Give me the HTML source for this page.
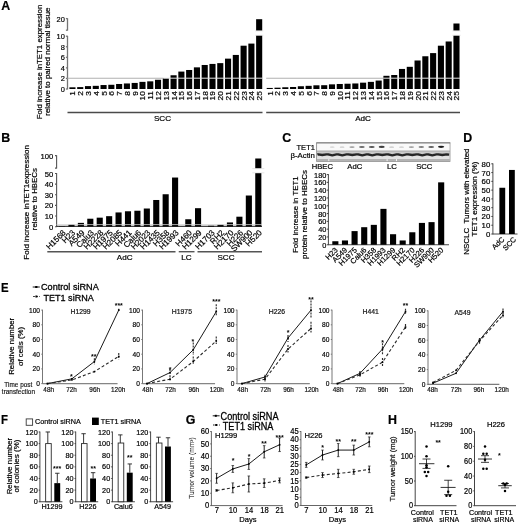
<!DOCTYPE html>
<html lang="en">
<head>
<meta charset="utf-8">
<title>TET1 expression in NSCLC - figure</title>
<style>
html,body{margin:0;padding:0;background:#fff;}
body{width:520px;height:524px;overflow:hidden;}
svg{display:block;font-family:'Liberation Sans', Arial, Helvetica, sans-serif;}
svg text{stroke:#000;stroke-width:0.2px;stroke-linejoin:round;}
</style>
</head>
<body>
<svg width="520" height="524" viewBox="0 0 520 524">
<rect x="0" y="0" width="520" height="524" fill="#ffffff"/>
<!-- panel letters -->
<text font-size="12.4" text-anchor="start" font-weight="bold" transform="translate(1.2 10.3)" y="0">A</text>
<text font-size="12.4" text-anchor="start" font-weight="bold" transform="translate(1.2 142.3)" y="0">B</text>
<text font-size="12.4" text-anchor="start" font-weight="bold" transform="translate(282.3 142.3)" y="0">C</text>
<text font-size="12.4" text-anchor="start" font-weight="bold" transform="translate(463.2 142.3)" y="0">D</text>
<text font-size="12.4" text-anchor="start" font-weight="bold" transform="translate(1 292.2) scale(0.920 1.000)" y="0">E</text>
<text font-size="12.4" text-anchor="start" font-weight="bold" transform="translate(1 424) scale(0.920 1.000)" y="0">F</text>
<text font-size="12.4" text-anchor="start" font-weight="bold" transform="translate(185.8 424.4)" y="0">G</text>
<text font-size="12.4" text-anchor="start" font-weight="bold" transform="translate(388 424)" y="0">H</text>
<!-- Panel A -->
<text font-size="7.6" text-anchor="middle" transform="translate(41.7 62) rotate(-90) scale(1.032 1.000)" y="0">Fold increase inTET1 expression</text>
<text font-size="7.6" text-anchor="middle" transform="translate(50.2 61.6) rotate(-90) scale(1.049 1.000)" y="0">relative to paired normal tissue</text>
<line x1="67.5" y1="35.8" x2="67.5" y2="89.4" stroke="#747474" stroke-width="1.3"/>
<line x1="67.5" y1="18.2" x2="67.5" y2="30.6" stroke="#747474" stroke-width="1.3"/>
<line x1="65.9" y1="30.2" x2="67.5" y2="30.2" stroke="#747474" stroke-width="1.3"/>
<line x1="65.9" y1="89" x2="67.5" y2="89" stroke="#747474" stroke-width="1.3"/>
<text font-size="8.1" text-anchor="end" transform="translate(64.8 89) scale(0.920 1.000)" y="2.9">0</text>
<line x1="65.9" y1="78.44" x2="67.5" y2="78.44" stroke="#747474" stroke-width="1.3"/>
<text font-size="8.1" text-anchor="end" transform="translate(64.8 78.44) scale(0.920 1.000)" y="2.9">2</text>
<line x1="65.9" y1="67.88" x2="67.5" y2="67.88" stroke="#747474" stroke-width="1.3"/>
<text font-size="8.1" text-anchor="end" transform="translate(64.8 67.88) scale(0.920 1.000)" y="2.9">4</text>
<line x1="65.9" y1="57.32" x2="67.5" y2="57.32" stroke="#747474" stroke-width="1.3"/>
<text font-size="8.1" text-anchor="end" transform="translate(64.8 57.32) scale(0.920 1.000)" y="2.9">6</text>
<line x1="65.9" y1="46.76" x2="67.5" y2="46.76" stroke="#747474" stroke-width="1.3"/>
<text font-size="8.1" text-anchor="end" transform="translate(64.8 46.76) scale(0.920 1.000)" y="2.9">8</text>
<line x1="65.9" y1="36.2" x2="67.5" y2="36.2" stroke="#747474" stroke-width="1.3"/>
<text font-size="8.1" text-anchor="end" transform="translate(64.8 36.2) scale(0.920 1.000)" y="2.9">10</text>
<line x1="65.9" y1="18.6" x2="67.5" y2="18.6" stroke="#747474" stroke-width="1.3"/>
<text font-size="8.1" text-anchor="end" transform="translate(64.8 18.8) scale(0.920 1.000)" y="2.9">20</text>
<rect x="69.4" y="87.31" width="6.1" height="1.69" fill="#000"/>
<text font-size="7.9" text-anchor="end" transform="translate(72.55 91.1) rotate(-90) scale(1.060 1.000)" y="2.83">1</text>
<rect x="77.18" y="87.1" width="6.1" height="1.9" fill="#000"/>
<text font-size="7.9" text-anchor="end" transform="translate(80.33 91.1) rotate(-90) scale(1.060 1.000)" y="2.83">2</text>
<rect x="84.96" y="86.1" width="6.1" height="2.9" fill="#000"/>
<text font-size="7.9" text-anchor="end" transform="translate(88.11 91.1) rotate(-90) scale(1.060 1.000)" y="2.83">3</text>
<rect x="92.74" y="85.83" width="6.1" height="3.17" fill="#000"/>
<text font-size="7.9" text-anchor="end" transform="translate(95.89 91.1) rotate(-90) scale(1.060 1.000)" y="2.83">4</text>
<rect x="100.52" y="85.04" width="6.1" height="3.96" fill="#000"/>
<text font-size="7.9" text-anchor="end" transform="translate(103.67 91.1) rotate(-90) scale(1.060 1.000)" y="2.83">5</text>
<rect x="108.3" y="84.78" width="6.1" height="4.22" fill="#000"/>
<text font-size="7.9" text-anchor="end" transform="translate(111.45 91.1) rotate(-90) scale(1.060 1.000)" y="2.83">6</text>
<rect x="116.08" y="83.98" width="6.1" height="5.02" fill="#000"/>
<text font-size="7.9" text-anchor="end" transform="translate(119.23 91.1) rotate(-90) scale(1.060 1.000)" y="2.83">7</text>
<rect x="123.86" y="83.46" width="6.1" height="5.54" fill="#000"/>
<text font-size="7.9" text-anchor="end" transform="translate(127.01 91.1) rotate(-90) scale(1.060 1.000)" y="2.83">8</text>
<rect x="131.64" y="82.93" width="6.1" height="6.07" fill="#000"/>
<text font-size="7.9" text-anchor="end" transform="translate(134.79 91.1) rotate(-90) scale(1.060 1.000)" y="2.83">9</text>
<rect x="139.42" y="81.87" width="6.1" height="7.13" fill="#000"/>
<text font-size="7.9" text-anchor="end" transform="translate(142.57 91.1) rotate(-90) scale(1.060 1.000)" y="2.83">10</text>
<rect x="147.2" y="81.34" width="6.1" height="7.66" fill="#000"/>
<text font-size="7.9" text-anchor="end" transform="translate(150.35 91.1) rotate(-90) scale(1.060 1.000)" y="2.83">11</text>
<rect x="154.98" y="79.76" width="6.1" height="9.24" fill="#000"/>
<text font-size="7.9" text-anchor="end" transform="translate(158.13 91.1) rotate(-90) scale(1.060 1.000)" y="2.83">12</text>
<rect x="162.76" y="78.18" width="6.1" height="10.82" fill="#000"/>
<text font-size="7.9" text-anchor="end" transform="translate(165.91 91.1) rotate(-90) scale(1.060 1.000)" y="2.83">13</text>
<rect x="170.54" y="75.27" width="6.1" height="13.73" fill="#000"/>
<text font-size="7.9" text-anchor="end" transform="translate(173.69 91.1) rotate(-90) scale(1.060 1.000)" y="2.83">14</text>
<rect x="178.32" y="71.58" width="6.1" height="17.42" fill="#000"/>
<text font-size="7.9" text-anchor="end" transform="translate(181.47 91.1) rotate(-90) scale(1.060 1.000)" y="2.83">15</text>
<rect x="186.1" y="69.99" width="6.1" height="19.01" fill="#000"/>
<text font-size="7.9" text-anchor="end" transform="translate(189.25 91.1) rotate(-90) scale(1.060 1.000)" y="2.83">16</text>
<rect x="193.88" y="67.35" width="6.1" height="21.65" fill="#000"/>
<text font-size="7.9" text-anchor="end" transform="translate(197.03 91.1) rotate(-90) scale(1.060 1.000)" y="2.83">17</text>
<rect x="201.66" y="64.98" width="6.1" height="24.02" fill="#000"/>
<text font-size="7.9" text-anchor="end" transform="translate(204.81 91.1) rotate(-90) scale(1.060 1.000)" y="2.83">18</text>
<rect x="209.44" y="63.92" width="6.1" height="25.08" fill="#000"/>
<text font-size="7.9" text-anchor="end" transform="translate(212.59 91.1) rotate(-90) scale(1.060 1.000)" y="2.83">19</text>
<rect x="217.22" y="63.13" width="6.1" height="25.87" fill="#000"/>
<text font-size="7.9" text-anchor="end" transform="translate(220.37 91.1) rotate(-90) scale(1.060 1.000)" y="2.83">20</text>
<rect x="225" y="58.64" width="6.1" height="30.36" fill="#000"/>
<text font-size="7.9" text-anchor="end" transform="translate(228.15 91.1) rotate(-90) scale(1.060 1.000)" y="2.83">21</text>
<rect x="232.78" y="54.94" width="6.1" height="34.06" fill="#000"/>
<text font-size="7.9" text-anchor="end" transform="translate(235.93 91.1) rotate(-90) scale(1.060 1.000)" y="2.83">22</text>
<rect x="240.56" y="45.7" width="6.1" height="43.3" fill="#000"/>
<text font-size="7.9" text-anchor="end" transform="translate(243.71 91.1) rotate(-90) scale(1.060 1.000)" y="2.83">23</text>
<rect x="248.34" y="43.59" width="6.1" height="45.41" fill="#000"/>
<text font-size="7.9" text-anchor="end" transform="translate(251.49 91.1) rotate(-90) scale(1.060 1.000)" y="2.83">24</text>
<rect x="256.12" y="35.6" width="6.1" height="53.4" fill="#000"/>
<rect x="256.12" y="19.2" width="6.1" height="11.4" fill="#000"/>
<line x1="254.92" y1="30.9" x2="263.42" y2="30.9" stroke="#d4d4d4" stroke-width="0.5"/>
<line x1="254.92" y1="35.3" x2="263.42" y2="35.3" stroke="#d4d4d4" stroke-width="0.5"/>
<text font-size="7.9" text-anchor="end" transform="translate(259.27 91.1) rotate(-90) scale(1.060 1.000)" y="2.83">25</text>
<rect x="266.7" y="87.94" width="6.1" height="1.06" fill="#000"/>
<text font-size="7.9" text-anchor="end" transform="translate(269.85 91.1) rotate(-90) scale(1.060 1.000)" y="2.83">1</text>
<rect x="274.48" y="87.68" width="6.1" height="1.32" fill="#000"/>
<text font-size="7.9" text-anchor="end" transform="translate(277.63 91.1) rotate(-90) scale(1.060 1.000)" y="2.83">2</text>
<rect x="282.26" y="87.26" width="6.1" height="1.74" fill="#000"/>
<text font-size="7.9" text-anchor="end" transform="translate(285.41 91.1) rotate(-90) scale(1.060 1.000)" y="2.83">3</text>
<rect x="290.04" y="86.99" width="6.1" height="2.01" fill="#000"/>
<text font-size="7.9" text-anchor="end" transform="translate(293.19 91.1) rotate(-90) scale(1.060 1.000)" y="2.83">4</text>
<rect x="297.82" y="86.25" width="6.1" height="2.75" fill="#000"/>
<text font-size="7.9" text-anchor="end" transform="translate(300.97 91.1) rotate(-90) scale(1.060 1.000)" y="2.83">5</text>
<rect x="305.6" y="85.83" width="6.1" height="3.17" fill="#000"/>
<text font-size="7.9" text-anchor="end" transform="translate(308.75 91.1) rotate(-90) scale(1.060 1.000)" y="2.83">6</text>
<rect x="313.38" y="85.3" width="6.1" height="3.7" fill="#000"/>
<text font-size="7.9" text-anchor="end" transform="translate(316.53 91.1) rotate(-90) scale(1.060 1.000)" y="2.83">7</text>
<rect x="321.16" y="85.2" width="6.1" height="3.8" fill="#000"/>
<text font-size="7.9" text-anchor="end" transform="translate(324.31 91.1) rotate(-90) scale(1.060 1.000)" y="2.83">8</text>
<rect x="328.94" y="84.35" width="6.1" height="4.65" fill="#000"/>
<text font-size="7.9" text-anchor="end" transform="translate(332.09 91.1) rotate(-90) scale(1.060 1.000)" y="2.83">9</text>
<rect x="336.72" y="83.98" width="6.1" height="5.02" fill="#000"/>
<text font-size="7.9" text-anchor="end" transform="translate(339.87 91.1) rotate(-90) scale(1.060 1.000)" y="2.83">10</text>
<rect x="344.5" y="83.72" width="6.1" height="5.28" fill="#000"/>
<text font-size="7.9" text-anchor="end" transform="translate(347.65 91.1) rotate(-90) scale(1.060 1.000)" y="2.83">11</text>
<rect x="352.28" y="83.46" width="6.1" height="5.54" fill="#000"/>
<text font-size="7.9" text-anchor="end" transform="translate(355.43 91.1) rotate(-90) scale(1.060 1.000)" y="2.83">12</text>
<rect x="360.06" y="82.66" width="6.1" height="6.34" fill="#000"/>
<text font-size="7.9" text-anchor="end" transform="translate(363.21 91.1) rotate(-90) scale(1.060 1.000)" y="2.83">13</text>
<rect x="367.84" y="81.87" width="6.1" height="7.13" fill="#000"/>
<text font-size="7.9" text-anchor="end" transform="translate(370.99 91.1) rotate(-90) scale(1.060 1.000)" y="2.83">14</text>
<rect x="375.62" y="80.55" width="6.1" height="8.45" fill="#000"/>
<text font-size="7.9" text-anchor="end" transform="translate(378.77 91.1) rotate(-90) scale(1.060 1.000)" y="2.83">15</text>
<rect x="383.4" y="75.8" width="6.1" height="13.2" fill="#000"/>
<text font-size="7.9" text-anchor="end" transform="translate(386.55 91.1) rotate(-90) scale(1.060 1.000)" y="2.83">16</text>
<rect x="391.18" y="75.01" width="6.1" height="13.99" fill="#000"/>
<text font-size="7.9" text-anchor="end" transform="translate(394.33 91.1) rotate(-90) scale(1.060 1.000)" y="2.83">17</text>
<rect x="398.96" y="68.94" width="6.1" height="20.06" fill="#000"/>
<text font-size="7.9" text-anchor="end" transform="translate(402.11 91.1) rotate(-90) scale(1.060 1.000)" y="2.83">18</text>
<rect x="406.74" y="66.82" width="6.1" height="22.18" fill="#000"/>
<text font-size="7.9" text-anchor="end" transform="translate(409.89 91.1) rotate(-90) scale(1.060 1.000)" y="2.83">19</text>
<rect x="414.52" y="60.49" width="6.1" height="28.51" fill="#000"/>
<text font-size="7.9" text-anchor="end" transform="translate(417.67 91.1) rotate(-90) scale(1.060 1.000)" y="2.83">20</text>
<rect x="422.3" y="56.26" width="6.1" height="32.74" fill="#000"/>
<text font-size="7.9" text-anchor="end" transform="translate(425.45 91.1) rotate(-90) scale(1.060 1.000)" y="2.83">21</text>
<rect x="430.08" y="53.1" width="6.1" height="35.9" fill="#000"/>
<text font-size="7.9" text-anchor="end" transform="translate(433.23 91.1) rotate(-90) scale(1.060 1.000)" y="2.83">22</text>
<rect x="437.86" y="45.7" width="6.1" height="43.3" fill="#000"/>
<text font-size="7.9" text-anchor="end" transform="translate(441.01 91.1) rotate(-90) scale(1.060 1.000)" y="2.83">23</text>
<rect x="445.64" y="41.48" width="6.1" height="47.52" fill="#000"/>
<text font-size="7.9" text-anchor="end" transform="translate(448.79 91.1) rotate(-90) scale(1.060 1.000)" y="2.83">24</text>
<rect x="453.42" y="35.6" width="6.1" height="53.4" fill="#000"/>
<rect x="453.42" y="23.5" width="6.1" height="7.1" fill="#000"/>
<line x1="452.22" y1="30.9" x2="460.72" y2="30.9" stroke="#d4d4d4" stroke-width="0.5"/>
<line x1="452.22" y1="35.3" x2="460.72" y2="35.3" stroke="#d4d4d4" stroke-width="0.5"/>
<text font-size="7.9" text-anchor="end" transform="translate(456.57 91.1) rotate(-90) scale(1.060 1.000)" y="2.83">25</text>
<line x1="67.5" y1="78.2" x2="163.5" y2="78.2" stroke="#b0b0b0" stroke-width="1.1"/>
<line x1="163.5" y1="78.2" x2="262.5" y2="78.2" stroke="#e2e2e2" stroke-width="1.0"/>
<line x1="266.2" y1="78.2" x2="383.5" y2="78.2" stroke="#b0b0b0" stroke-width="1.1"/>
<line x1="383.5" y1="78.2" x2="460" y2="78.2" stroke="#e2e2e2" stroke-width="1.0"/>
<line x1="67.5" y1="112.5" x2="262.5" y2="112.5" stroke="#4a4a4a" stroke-width="1.3"/>
<line x1="266.2" y1="112.5" x2="460" y2="112.5" stroke="#4a4a4a" stroke-width="1.3"/>
<text font-size="8.1" text-anchor="middle" transform="translate(162.5 118.2)" y="2.9">SCC</text>
<text font-size="8.1" text-anchor="middle" transform="translate(363 118.2)" y="2.9">AdC</text>
<!-- Panel B -->
<text font-size="7.6" text-anchor="middle" transform="translate(28.8 202.4) rotate(-90) scale(1.052 1.000)" y="0">Fold increase inTET1expression</text>
<text font-size="7.6" text-anchor="middle" transform="translate(37.1 199.1) rotate(-90) scale(1.037 1.000)" y="0">relative to HBECs</text>
<line x1="56.6" y1="173.1" x2="56.6" y2="227.1" stroke="#555" stroke-width="1.1"/>
<line x1="56.6" y1="155.2" x2="56.6" y2="168.5" stroke="#555" stroke-width="1.1"/>
<line x1="55" y1="168.1" x2="56.6" y2="168.1" stroke="#555" stroke-width="1.1"/>
<line x1="55" y1="226.7" x2="56.6" y2="226.7" stroke="#555" stroke-width="1.1"/>
<text font-size="7.9" text-anchor="end" transform="translate(53.3 226.9) scale(0.970 1.000)" y="2.83">0</text>
<line x1="55" y1="216.06" x2="56.6" y2="216.06" stroke="#555" stroke-width="1.1"/>
<text font-size="7.9" text-anchor="end" transform="translate(53.3 216.26) scale(0.970 1.000)" y="2.83">10</text>
<line x1="55" y1="205.42" x2="56.6" y2="205.42" stroke="#555" stroke-width="1.1"/>
<text font-size="7.9" text-anchor="end" transform="translate(53.3 205.62) scale(0.970 1.000)" y="2.83">20</text>
<line x1="55" y1="194.78" x2="56.6" y2="194.78" stroke="#555" stroke-width="1.1"/>
<text font-size="7.9" text-anchor="end" transform="translate(53.3 194.98) scale(0.970 1.000)" y="2.83">30</text>
<line x1="55" y1="184.14" x2="56.6" y2="184.14" stroke="#555" stroke-width="1.1"/>
<text font-size="7.9" text-anchor="end" transform="translate(53.3 184.34) scale(0.970 1.000)" y="2.83">40</text>
<line x1="55" y1="173.5" x2="56.6" y2="173.5" stroke="#555" stroke-width="1.1"/>
<text font-size="7.9" text-anchor="end" transform="translate(53.3 173.7) scale(0.970 1.000)" y="2.83">50</text>
<line x1="55" y1="155.6" x2="56.6" y2="155.6" stroke="#555" stroke-width="1.1"/>
<text font-size="7.9" text-anchor="end" transform="translate(53.3 155.8) scale(0.970 1.000)" y="2.83">100</text>
<rect x="59" y="226.27" width="6.1" height="0.43" fill="#000"/>
<text font-size="8.1" text-anchor="end" transform="translate(66.25 233.2) rotate(-45)" y="0">H1568</text>
<rect x="68.42" y="224.57" width="6.1" height="2.13" fill="#000"/>
<text font-size="8.1" text-anchor="end" transform="translate(75.67 233.2) rotate(-45)" y="0">H23</text>
<rect x="77.84" y="222.87" width="6.1" height="3.83" fill="#000"/>
<text font-size="8.1" text-anchor="end" transform="translate(85.09 233.2) rotate(-45)" y="0">A549</text>
<rect x="87.26" y="218.72" width="6.1" height="7.98" fill="#000"/>
<text font-size="8.1" text-anchor="end" transform="translate(94.51 233.2) rotate(-45)" y="0">Calu3</text>
<rect x="96.68" y="217.66" width="6.1" height="9.04" fill="#000"/>
<text font-size="8.1" text-anchor="end" transform="translate(103.93 233.2) rotate(-45)" y="0">H2228</text>
<rect x="106.1" y="216.17" width="6.1" height="10.53" fill="#000"/>
<text font-size="8.1" text-anchor="end" transform="translate(113.35 233.2) rotate(-45)" y="0">H1975</text>
<rect x="115.52" y="212.44" width="6.1" height="14.26" fill="#000"/>
<text font-size="8.1" text-anchor="end" transform="translate(122.77 233.2) rotate(-45)" y="0">H2085</text>
<rect x="124.94" y="211.27" width="6.1" height="15.43" fill="#000"/>
<text font-size="8.1" text-anchor="end" transform="translate(132.19 233.2) rotate(-45)" y="0">H441</text>
<rect x="134.36" y="210.74" width="6.1" height="15.96" fill="#000"/>
<text font-size="8.1" text-anchor="end" transform="translate(141.61 233.2) rotate(-45)" y="0">Calu6</text>
<rect x="143.78" y="208.51" width="6.1" height="18.19" fill="#000"/>
<text font-size="8.1" text-anchor="end" transform="translate(151.03 233.2) rotate(-45)" y="0">H2023</text>
<rect x="153.2" y="199.99" width="6.1" height="26.71" fill="#000"/>
<text font-size="8.1" text-anchor="end" transform="translate(160.45 233.2) rotate(-45)" y="0">H1435</text>
<rect x="162.62" y="194.25" width="6.1" height="32.45" fill="#000"/>
<text font-size="8.1" text-anchor="end" transform="translate(169.87 233.2) rotate(-45)" y="0">H358</text>
<rect x="172.04" y="177.54" width="6.1" height="49.16" fill="#000"/>
<text font-size="8.1" text-anchor="end" transform="translate(179.29 233.2) rotate(-45)" y="0">H1993</text>
<rect x="185.25" y="219.25" width="6.1" height="7.45" fill="#000"/>
<text font-size="8.1" text-anchor="end" transform="translate(192.5 233.2) rotate(-45)" y="0">H460</text>
<rect x="195" y="208.19" width="6.1" height="18.51" fill="#000"/>
<text font-size="8.1" text-anchor="end" transform="translate(202.25 233.2) rotate(-45)" y="0">H1299</text>
<rect x="208" y="225.74" width="6.1" height="0.96" fill="#000"/>
<text font-size="8.1" text-anchor="end" transform="translate(215.25 233.2) rotate(-45)" y="0">H1703</text>
<rect x="217.45" y="224.68" width="6.1" height="2.02" fill="#000"/>
<text font-size="8.1" text-anchor="end" transform="translate(224.7 233.2) rotate(-45)" y="0">RH2</text>
<rect x="226.9" y="222.44" width="6.1" height="4.26" fill="#000"/>
<text font-size="8.1" text-anchor="end" transform="translate(234.15 233.2) rotate(-45)" y="0">H2170</text>
<rect x="236.35" y="216.7" width="6.1" height="10" fill="#000"/>
<text font-size="8.1" text-anchor="end" transform="translate(243.6 233.2) rotate(-45)" y="0">H226</text>
<rect x="245.8" y="195.52" width="6.1" height="31.18" fill="#000"/>
<text font-size="8.1" text-anchor="end" transform="translate(253.05 233.2) rotate(-45)" y="0">SW900</text>
<rect x="255.25" y="173.1" width="6.1" height="53.6" fill="#000"/>
<rect x="255.25" y="158.5" width="6.1" height="9.8" fill="#000"/>
<line x1="252.25" y1="168.6" x2="264.35" y2="168.6" stroke="#cfcfcf" stroke-width="0.5"/>
<line x1="252.25" y1="172.8" x2="264.35" y2="172.8" stroke="#cfcfcf" stroke-width="0.5"/>
<text font-size="8.1" text-anchor="end" transform="translate(262.5 233.2) rotate(-45)" y="0">H520</text>
<line x1="56.6" y1="224.6" x2="262" y2="224.6" stroke="#d2d2d2" stroke-width="0.8"/>
<line x1="56.6" y1="226.3" x2="262" y2="226.3" stroke="#111" stroke-width="1.0"/>
<line x1="47.3" y1="251.7" x2="175.5" y2="251.7" stroke="#555" stroke-width="1.4"/>
<line x1="178.75" y1="251.7" x2="194.5" y2="251.7" stroke="#555" stroke-width="1.4"/>
<line x1="197.5" y1="251.7" x2="262" y2="251.7" stroke="#555" stroke-width="1.4"/>
<text font-size="8.1" text-anchor="middle" transform="translate(124.7 257.5)" y="2.9">AdC</text>
<text font-size="8.1" text-anchor="middle" transform="translate(186.5 257.5)" y="2.9">LC</text>
<text font-size="8.1" text-anchor="middle" transform="translate(226 257.5)" y="2.9">SCC</text>
<!-- Panel C -->
<defs><filter id="soft" x="-5%" y="-50%" width="110%" height="200%"><feGaussianBlur stdDeviation="0.45"/></filter></defs>
<rect x="316.6" y="142.8" width="133.4" height="18.6" fill="#d2d2d2" stroke="#8c8c8c" stroke-width="0.8"/>
<rect x="317.1" y="143.5" width="132.4" height="7.3" fill="#f9f9f9"/>
<line x1="316.4" y1="142.9" x2="450.2" y2="142.9" stroke="#707070" stroke-width="0.8"/>
<line x1="317" y1="151.2" x2="449.6" y2="151.2" stroke="#7a7a7a" stroke-width="0.8"/>
<rect x="317.1" y="151.5" width="132.4" height="2.6" fill="#c9c9c9"/>
<rect x="317.1" y="154" width="132.4" height="5" fill="#e2e2e2"/>
<rect x="317.1" y="159" width="132.4" height="2.1" fill="#b3b3b3"/>
<rect x="328.3" y="159.1" width="1" height="2" fill="#f4f4f4"/>
<rect x="386.6" y="159.1" width="1" height="2" fill="#f4f4f4"/>
<rect x="396" y="159.1" width="1" height="2" fill="#f4f4f4"/>
<g filter="url(#soft)">
<polyline points="317.4,154.6 318.1,154.3 322.3,155 326.5,154.4 328.1,154.3 332.3,155.4 336.5,154.4 338.1,154.3 342.3,155.4 346.5,154.4 348.1,154.3 352.3,155 356.5,154.4 358.1,154.3 362.3,155.4 366.5,154.4 368.1,154.3 372.3,155.4 376.5,154.4 378.1,154.3 382.3,155 386.5,154.4 388.1,154.3 392.3,155.4 396.5,154.4 398.1,154.3 402.3,155.4 406.5,154.4 408.1,154.3 412.3,155 416.5,154.4 418.1,154.3 422.3,155.4 426.5,154.4 428.1,154.3 432.3,155.4 436.5,154.4 438.1,154.3 442.3,155 446.5,154.4 449.2,154.6" fill="none" stroke="#262626" stroke-width="2.3" stroke-linejoin="round"/>
<ellipse cx="332.2" cy="147.17" rx="2.46" ry="0.83" fill="rgb(218,218,218)"/>
<ellipse cx="342.1" cy="147.16" rx="2.48" ry="0.84" fill="rgb(214,214,214)"/>
<ellipse cx="352" cy="147.06" rx="2.68" ry="0.92" fill="rgb(160,160,160)"/>
<ellipse cx="361.9" cy="146.96" rx="2.88" ry="1.01" fill="rgb(107,107,107)"/>
<ellipse cx="371.8" cy="146.92" rx="2.96" ry="1.04" fill="rgb(85,85,85)"/>
<ellipse cx="381.7" cy="146.88" rx="3.04" ry="1.08" fill="rgb(64,64,64)"/>
<ellipse cx="391.6" cy="147.15" rx="2.5" ry="0.84" fill="rgb(210,210,210)"/>
<ellipse cx="401.5" cy="147.16" rx="2.48" ry="0.84" fill="rgb(214,214,214)"/>
<ellipse cx="411.4" cy="147.06" rx="2.68" ry="0.92" fill="rgb(160,160,160)"/>
<ellipse cx="421.3" cy="147" rx="2.8" ry="0.98" fill="rgb(128,128,128)"/>
<ellipse cx="431.2" cy="146.94" rx="2.92" ry="1.03" fill="rgb(96,96,96)"/>
<ellipse cx="441.1" cy="146.82" rx="3.16" ry="1.13" fill="rgb(31,31,31)"/>
</g>
<text font-size="8" text-anchor="end" transform="translate(314.9 147.3) scale(0.941 1.000)" y="2.86">TET1</text>
<text font-size="8" text-anchor="end" transform="translate(314.9 155.4) scale(0.978 1.000)" y="2.86">β-Actin</text>
<text font-size="7.8" text-anchor="middle" transform="translate(322.3 165.8) scale(0.978 1.000)" y="2.79">HBEC</text>
<text font-size="7.8" text-anchor="middle" transform="translate(354.8 165.8) scale(0.989 1.000)" y="2.79">AdC</text>
<text font-size="7.8" text-anchor="middle" transform="translate(392 165.8)" y="2.79">LC</text>
<text font-size="7.8" text-anchor="middle" transform="translate(424.3 165.8) scale(0.990 1.000)" y="2.79">SCC</text>
<text font-size="8" text-anchor="middle" transform="translate(298.4 214.7) rotate(-90) scale(0.984 1.000)" y="0">Fold increase in TET1</text>
<text font-size="8" text-anchor="middle" transform="translate(306.6 214.5) rotate(-90) scale(0.991 1.000)" y="0">protein relative to HBECs</text>
<line x1="328.4" y1="174.15" x2="328.4" y2="245.15" stroke="#333" stroke-width="0.9"/>
<line x1="328.4" y1="244.75" x2="449" y2="244.75" stroke="#333" stroke-width="0.9"/>
<line x1="326.8" y1="244.75" x2="328.4" y2="244.75" stroke="#333" stroke-width="0.9"/>
<text font-size="7.7" text-anchor="end" transform="translate(326.4 244.95) scale(0.960 1.000)" y="2.76">0</text>
<line x1="326.8" y1="236.95" x2="328.4" y2="236.95" stroke="#333" stroke-width="0.9"/>
<text font-size="7.7" text-anchor="end" transform="translate(326.4 237.15) scale(0.960 1.000)" y="2.76">20</text>
<line x1="326.8" y1="229.15" x2="328.4" y2="229.15" stroke="#333" stroke-width="0.9"/>
<text font-size="7.7" text-anchor="end" transform="translate(326.4 229.35) scale(0.960 1.000)" y="2.76">40</text>
<line x1="326.8" y1="221.35" x2="328.4" y2="221.35" stroke="#333" stroke-width="0.9"/>
<text font-size="7.7" text-anchor="end" transform="translate(326.4 221.55) scale(0.960 1.000)" y="2.76">60</text>
<line x1="326.8" y1="213.55" x2="328.4" y2="213.55" stroke="#333" stroke-width="0.9"/>
<text font-size="7.7" text-anchor="end" transform="translate(326.4 213.75) scale(0.960 1.000)" y="2.76">80</text>
<line x1="326.8" y1="205.75" x2="328.4" y2="205.75" stroke="#333" stroke-width="0.9"/>
<text font-size="7.7" text-anchor="end" transform="translate(326.4 205.95) scale(0.960 1.000)" y="2.76">100</text>
<line x1="326.8" y1="197.95" x2="328.4" y2="197.95" stroke="#333" stroke-width="0.9"/>
<text font-size="7.7" text-anchor="end" transform="translate(326.4 198.15) scale(0.960 1.000)" y="2.76">120</text>
<line x1="326.8" y1="190.15" x2="328.4" y2="190.15" stroke="#333" stroke-width="0.9"/>
<text font-size="7.7" text-anchor="end" transform="translate(326.4 190.35) scale(0.960 1.000)" y="2.76">140</text>
<line x1="326.8" y1="182.35" x2="328.4" y2="182.35" stroke="#333" stroke-width="0.9"/>
<text font-size="7.7" text-anchor="end" transform="translate(326.4 182.55) scale(0.960 1.000)" y="2.76">160</text>
<line x1="326.8" y1="174.55" x2="328.4" y2="174.55" stroke="#333" stroke-width="0.9"/>
<text font-size="7.7" text-anchor="end" transform="translate(326.4 174.75) scale(0.960 1.000)" y="2.76">180</text>
<rect x="332.3" y="241.24" width="6.1" height="3.51" fill="#000"/>
<text font-size="7.5" text-anchor="end" transform="translate(338.15 250.55) rotate(-45)" y="0">H23</text>
<rect x="341.92" y="240.46" width="6.1" height="4.29" fill="#000"/>
<text font-size="7.5" text-anchor="end" transform="translate(347.77 250.55) rotate(-45)" y="0">A549</text>
<rect x="351.54" y="231.1" width="6.1" height="13.65" fill="#000"/>
<text font-size="7.5" text-anchor="end" transform="translate(357.39 250.55) rotate(-45)" y="0">H1975</text>
<rect x="361.16" y="227.2" width="6.1" height="17.55" fill="#000"/>
<text font-size="7.5" text-anchor="end" transform="translate(367.01 250.55) rotate(-45)" y="0">Calu6</text>
<rect x="370.78" y="224.86" width="6.1" height="19.89" fill="#000"/>
<text font-size="7.5" text-anchor="end" transform="translate(376.63 250.55) rotate(-45)" y="0">H358</text>
<rect x="380.4" y="208.87" width="6.1" height="35.88" fill="#000"/>
<text font-size="7.5" text-anchor="end" transform="translate(386.25 250.55) rotate(-45)" y="0">H1993</text>
<rect x="390.02" y="234.22" width="6.1" height="10.53" fill="#000"/>
<text font-size="7.5" text-anchor="end" transform="translate(395.87 250.55) rotate(-45)" y="0">H1299</text>
<rect x="399.64" y="240.46" width="6.1" height="4.29" fill="#000"/>
<text font-size="7.5" text-anchor="end" transform="translate(405.49 250.55) rotate(-45)" y="0">RH2</text>
<rect x="409.26" y="232.27" width="6.1" height="12.48" fill="#000"/>
<text font-size="7.5" text-anchor="end" transform="translate(415.11 250.55) rotate(-45)" y="0">H2170</text>
<rect x="418.88" y="222.91" width="6.1" height="21.84" fill="#000"/>
<text font-size="7.5" text-anchor="end" transform="translate(424.73 250.55) rotate(-45)" y="0">H226</text>
<rect x="428.5" y="222.13" width="6.1" height="22.62" fill="#000"/>
<text font-size="7.5" text-anchor="end" transform="translate(434.35 250.55) rotate(-45)" y="0">SW900</text>
<rect x="438.12" y="182.35" width="6.1" height="62.4" fill="#000"/>
<text font-size="7.5" text-anchor="end" transform="translate(443.97 250.55) rotate(-45)" y="0">H520</text>
<!-- Panel D -->
<text font-size="7.8" text-anchor="middle" transform="translate(468.9 201.6) rotate(-90) scale(1.017 1.000)" y="0">NSCLC  Tumors with elevated</text>
<text font-size="7.8" text-anchor="middle" transform="translate(477.4 199) rotate(-90) scale(1.024 1.000)" y="0">TET1 expression (%)</text>
<line x1="492.9" y1="163.4" x2="492.9" y2="234.4" stroke="#333" stroke-width="0.9"/>
<line x1="492.9" y1="234" x2="517.5" y2="234" stroke="#333" stroke-width="0.9"/>
<line x1="491.3" y1="234" x2="492.9" y2="234" stroke="#333" stroke-width="0.9"/>
<text font-size="7.8" text-anchor="end" transform="translate(490.3 234.2)" y="2.79">0</text>
<line x1="491.3" y1="225.22" x2="492.9" y2="225.22" stroke="#333" stroke-width="0.9"/>
<text font-size="7.8" text-anchor="end" transform="translate(490.3 225.42)" y="2.79">10</text>
<line x1="491.3" y1="216.45" x2="492.9" y2="216.45" stroke="#333" stroke-width="0.9"/>
<text font-size="7.8" text-anchor="end" transform="translate(490.3 216.65)" y="2.79">20</text>
<line x1="491.3" y1="207.68" x2="492.9" y2="207.68" stroke="#333" stroke-width="0.9"/>
<text font-size="7.8" text-anchor="end" transform="translate(490.3 207.88)" y="2.79">30</text>
<line x1="491.3" y1="198.9" x2="492.9" y2="198.9" stroke="#333" stroke-width="0.9"/>
<text font-size="7.8" text-anchor="end" transform="translate(490.3 199.1)" y="2.79">40</text>
<line x1="491.3" y1="190.12" x2="492.9" y2="190.12" stroke="#333" stroke-width="0.9"/>
<text font-size="7.8" text-anchor="end" transform="translate(490.3 190.32)" y="2.79">50</text>
<line x1="491.3" y1="181.35" x2="492.9" y2="181.35" stroke="#333" stroke-width="0.9"/>
<text font-size="7.8" text-anchor="end" transform="translate(490.3 181.55)" y="2.79">60</text>
<line x1="491.3" y1="172.57" x2="492.9" y2="172.57" stroke="#333" stroke-width="0.9"/>
<text font-size="7.8" text-anchor="end" transform="translate(490.3 172.77)" y="2.79">70</text>
<line x1="491.3" y1="163.8" x2="492.9" y2="163.8" stroke="#333" stroke-width="0.9"/>
<text font-size="7.8" text-anchor="end" transform="translate(490.3 164)" y="2.79">80</text>
<rect x="499.4" y="187.76" width="5.8" height="46.24" fill="#000"/>
<rect x="509" y="169.94" width="5.8" height="64.06" fill="#000"/>
<text font-size="7.3" text-anchor="end" transform="translate(504.9 240) rotate(-45)" y="0">AdC</text>
<text font-size="7.3" text-anchor="end" transform="translate(516.6 240) rotate(-45)" y="0">SCC</text>
<!-- Panel E -->
<line x1="32.7" y1="287" x2="39.8" y2="287" stroke="#000" stroke-width="0.9"/>
<rect x="35.2" y="286" width="2.2" height="2" fill="#000"/>
<text font-size="9.8" text-anchor="start" style="stroke-width:0.3px" transform="translate(41 286.7) scale(0.931 1.000)" y="3.51">Control siRNA</text>
<line x1="33.2" y1="296.5" x2="39.8" y2="296.5" stroke="#000" stroke-width="0.9" stroke-dasharray="1.6 1.4"/>
<rect x="35.4" y="295.5" width="2" height="2" fill="#000"/>
<text font-size="9.8" text-anchor="start" style="stroke-width:0.3px" transform="translate(43.5 297.9) scale(0.924 1.000)" y="3.51">TET1 siRNA</text>
<text font-size="7.9" text-anchor="middle" transform="translate(14.2 346.3) rotate(-90) scale(0.991 1.000)" y="0">Relative number</text>
<text font-size="7.9" text-anchor="middle" transform="translate(22.9 346.4) rotate(-90) scale(1.006 1.000)" y="0">of cells (%)</text>
<text font-size="6.7" text-anchor="middle" fill="#222" style="stroke-width:0.15px" transform="translate(18.3 384.8) scale(0.957 1.000)" y="2.4">Time post</text>
<text font-size="6.7" text-anchor="middle" fill="#222" style="stroke-width:0.15px" transform="translate(18.4 391.4) scale(0.956 1.000)" y="2.4">transfection</text>
<line x1="42.5" y1="309.7" x2="42.5" y2="384" stroke="#777" stroke-width="1.0"/>
<line x1="42.5" y1="383.6" x2="117.55" y2="383.6" stroke="#858585" stroke-width="1.1"/>
<line x1="41.3" y1="383.6" x2="42.5" y2="383.6" stroke="#777" stroke-width="1.0"/>
<text font-size="7.9" text-anchor="end" transform="translate(40 383.3) scale(0.840 1.000)" y="2.83">0</text>
<line x1="41.3" y1="368.9" x2="42.5" y2="368.9" stroke="#777" stroke-width="1.0"/>
<text font-size="7.9" text-anchor="end" transform="translate(40 368.6) scale(0.840 1.000)" y="2.83">20</text>
<line x1="41.3" y1="354.2" x2="42.5" y2="354.2" stroke="#777" stroke-width="1.0"/>
<text font-size="7.9" text-anchor="end" transform="translate(40 353.9) scale(0.840 1.000)" y="2.83">40</text>
<line x1="41.3" y1="339.5" x2="42.5" y2="339.5" stroke="#777" stroke-width="1.0"/>
<text font-size="7.9" text-anchor="end" transform="translate(40 339.2) scale(0.840 1.000)" y="2.83">60</text>
<line x1="41.3" y1="324.8" x2="42.5" y2="324.8" stroke="#777" stroke-width="1.0"/>
<text font-size="7.9" text-anchor="end" transform="translate(40 324.5) scale(0.840 1.000)" y="2.83">80</text>
<line x1="41.3" y1="310.1" x2="42.5" y2="310.1" stroke="#777" stroke-width="1.0"/>
<text font-size="7.9" text-anchor="end" transform="translate(40 309.8) scale(0.840 1.000)" y="2.83">100</text>
<text font-size="7.3" text-anchor="middle" fill="#222" transform="translate(48.7 389.2) scale(0.880 1.000)" y="2.61">48h</text>
<text font-size="7.3" text-anchor="middle" fill="#222" transform="translate(71.5 389.2) scale(0.880 1.000)" y="2.61">72h</text>
<text font-size="7.3" text-anchor="middle" fill="#222" transform="translate(94.7 389.2) scale(0.880 1.000)" y="2.61">96h</text>
<text font-size="7.3" text-anchor="middle" fill="#222" transform="translate(118.15 389.2) scale(0.880 1.000)" y="2.61">120h</text>
<text font-size="7.6" text-anchor="middle" fill="#222" transform="translate(80.6 311.4) scale(0.900 1.000)" y="2.72">H1299</text>
<polyline points="47.5,383.6 71.9,378.82 94.4,361.55 118.75,310.1" fill="none" stroke="#1a1a1a" stroke-width="1.0" stroke-linejoin="round"/>
<polyline points="47.5,383.6 71.9,379.93 94.4,371.62 118.75,356.41" fill="none" stroke="#2a2a2a" stroke-width="1.1" stroke-linejoin="round" stroke-dasharray="3 2.2"/>
<rect x="46.7" y="382.8" width="1.6" height="1.6" fill="#000"/>
<rect x="71.1" y="378.02" width="1.6" height="1.6" fill="#000"/>
<line x1="94.4" y1="358.24" x2="94.4" y2="364.49" stroke="#2e2e2e" stroke-width="1.15" stroke-dasharray="2.0 1.0"/>
<rect x="93.6" y="360.75" width="1.6" height="1.6" fill="#000"/>
<line x1="118.75" y1="308.63" x2="118.75" y2="311.57" stroke="#2e2e2e" stroke-width="1.15" stroke-dasharray="2.0 1.0"/>
<rect x="117.95" y="309.3" width="1.6" height="1.6" fill="#000"/>
<rect x="46.7" y="382.8" width="1.6" height="1.6" fill="#000"/>
<rect x="71.1" y="379.12" width="1.6" height="1.6" fill="#000"/>
<rect x="93.6" y="370.82" width="1.6" height="1.6" fill="#000"/>
<line x1="118.75" y1="353.1" x2="118.75" y2="359.35" stroke="#2e2e2e" stroke-width="1.15" stroke-dasharray="2.0 1.0"/>
<rect x="117.95" y="355.61" width="1.6" height="1.6" fill="#000"/>
<text font-size="7" text-anchor="middle" font-weight="bold" style="stroke-width:0px" transform="translate(71.3 376.3)" y="2.51">*</text>
<text font-size="7" text-anchor="middle" font-weight="bold" style="stroke-width:0px" transform="translate(93.8 356)" y="2.51">**</text>
<text font-size="7" text-anchor="middle" font-weight="bold" style="stroke-width:0px" transform="translate(118.75 305.3)" y="2.51">***</text>
<line x1="142.5" y1="309.7" x2="142.5" y2="384" stroke="#777" stroke-width="1.0"/>
<line x1="142.5" y1="383.6" x2="215.05" y2="383.6" stroke="#858585" stroke-width="1.1"/>
<line x1="141.3" y1="383.6" x2="142.5" y2="383.6" stroke="#777" stroke-width="1.0"/>
<text font-size="7.9" text-anchor="end" transform="translate(140 383.3) scale(0.840 1.000)" y="2.83">0</text>
<line x1="141.3" y1="368.9" x2="142.5" y2="368.9" stroke="#777" stroke-width="1.0"/>
<text font-size="7.9" text-anchor="end" transform="translate(140 368.6) scale(0.840 1.000)" y="2.83">20</text>
<line x1="141.3" y1="354.2" x2="142.5" y2="354.2" stroke="#777" stroke-width="1.0"/>
<text font-size="7.9" text-anchor="end" transform="translate(140 353.9) scale(0.840 1.000)" y="2.83">40</text>
<line x1="141.3" y1="339.5" x2="142.5" y2="339.5" stroke="#777" stroke-width="1.0"/>
<text font-size="7.9" text-anchor="end" transform="translate(140 339.2) scale(0.840 1.000)" y="2.83">60</text>
<line x1="141.3" y1="324.8" x2="142.5" y2="324.8" stroke="#777" stroke-width="1.0"/>
<text font-size="7.9" text-anchor="end" transform="translate(140 324.5) scale(0.840 1.000)" y="2.83">80</text>
<line x1="141.3" y1="310.1" x2="142.5" y2="310.1" stroke="#777" stroke-width="1.0"/>
<text font-size="7.9" text-anchor="end" transform="translate(140 309.8) scale(0.840 1.000)" y="2.83">100</text>
<text font-size="7.3" text-anchor="middle" fill="#222" transform="translate(147.6 389.2) scale(0.880 1.000)" y="2.61">48h</text>
<text font-size="7.3" text-anchor="middle" fill="#222" transform="translate(170.5 389.2) scale(0.880 1.000)" y="2.61">72h</text>
<text font-size="7.3" text-anchor="middle" fill="#222" transform="translate(193.75 389.2) scale(0.880 1.000)" y="2.61">96h</text>
<text font-size="7.3" text-anchor="middle" fill="#222" transform="translate(216.75 389.2) scale(0.880 1.000)" y="2.61">120h</text>
<text font-size="7.6" text-anchor="middle" fill="#222" transform="translate(181.9 311.4) scale(0.900 1.000)" y="2.72">H1975</text>
<polyline points="147,383.6 170,372.58 193.25,349.79 216.25,311.57" fill="none" stroke="#1a1a1a" stroke-width="1.0" stroke-linejoin="round"/>
<polyline points="147,383.6 170,379.19 193.25,361.55 216.25,340.97" fill="none" stroke="#2a2a2a" stroke-width="1.1" stroke-linejoin="round" stroke-dasharray="3 2.2"/>
<rect x="146.2" y="382.8" width="1.6" height="1.6" fill="#000"/>
<line x1="170" y1="368.9" x2="170" y2="375.52" stroke="#2e2e2e" stroke-width="1.15" stroke-dasharray="2.0 1.0"/>
<rect x="169.2" y="371.78" width="1.6" height="1.6" fill="#000"/>
<line x1="193.25" y1="342.44" x2="193.25" y2="354.94" stroke="#2e2e2e" stroke-width="1.15" stroke-dasharray="2.0 1.0"/>
<rect x="192.45" y="348.99" width="1.6" height="1.6" fill="#000"/>
<line x1="216.25" y1="304.22" x2="216.25" y2="315.98" stroke="#2e2e2e" stroke-width="1.15" stroke-dasharray="2.0 1.0"/>
<rect x="215.45" y="310.77" width="1.6" height="1.6" fill="#000"/>
<rect x="146.2" y="382.8" width="1.6" height="1.6" fill="#000"/>
<line x1="170" y1="375.52" x2="170" y2="381.4" stroke="#2e2e2e" stroke-width="1.15" stroke-dasharray="2.0 1.0"/>
<rect x="169.2" y="378.39" width="1.6" height="1.6" fill="#000"/>
<line x1="193.25" y1="356.41" x2="193.25" y2="363.75" stroke="#2e2e2e" stroke-width="1.15" stroke-dasharray="2.0 1.0"/>
<rect x="192.45" y="360.75" width="1.6" height="1.6" fill="#000"/>
<line x1="216.25" y1="336.56" x2="216.25" y2="343.91" stroke="#2e2e2e" stroke-width="1.15" stroke-dasharray="2.0 1.0"/>
<rect x="215.45" y="340.17" width="1.6" height="1.6" fill="#000"/>
<text font-size="7" text-anchor="middle" font-weight="bold" style="stroke-width:0px" transform="translate(170 369.9)" y="2.51">*</text>
<text font-size="7" text-anchor="middle" font-weight="bold" style="stroke-width:0px" transform="translate(192.8 341.1)" y="2.51">*</text>
<text font-size="7" text-anchor="middle" font-weight="bold" style="stroke-width:0px" transform="translate(216.3 301.9)" y="2.51">***</text>
<line x1="237" y1="309.7" x2="237" y2="384" stroke="#777" stroke-width="1.0"/>
<line x1="237" y1="383.6" x2="309.8" y2="383.6" stroke="#858585" stroke-width="1.1"/>
<line x1="235.8" y1="383.6" x2="237" y2="383.6" stroke="#777" stroke-width="1.0"/>
<text font-size="7.9" text-anchor="end" transform="translate(234.5 383.3) scale(0.840 1.000)" y="2.83">0</text>
<line x1="235.8" y1="368.9" x2="237" y2="368.9" stroke="#777" stroke-width="1.0"/>
<text font-size="7.9" text-anchor="end" transform="translate(234.5 368.6) scale(0.840 1.000)" y="2.83">20</text>
<line x1="235.8" y1="354.2" x2="237" y2="354.2" stroke="#777" stroke-width="1.0"/>
<text font-size="7.9" text-anchor="end" transform="translate(234.5 353.9) scale(0.840 1.000)" y="2.83">40</text>
<line x1="235.8" y1="339.5" x2="237" y2="339.5" stroke="#777" stroke-width="1.0"/>
<text font-size="7.9" text-anchor="end" transform="translate(234.5 339.2) scale(0.840 1.000)" y="2.83">60</text>
<line x1="235.8" y1="324.8" x2="237" y2="324.8" stroke="#777" stroke-width="1.0"/>
<text font-size="7.9" text-anchor="end" transform="translate(234.5 324.5) scale(0.840 1.000)" y="2.83">80</text>
<line x1="235.8" y1="310.1" x2="237" y2="310.1" stroke="#777" stroke-width="1.0"/>
<text font-size="7.9" text-anchor="end" transform="translate(234.5 309.8) scale(0.840 1.000)" y="2.83">100</text>
<text font-size="7.3" text-anchor="middle" fill="#222" transform="translate(242.6 389.2) scale(0.880 1.000)" y="2.61">48h</text>
<text font-size="7.3" text-anchor="middle" fill="#222" transform="translate(265.5 389.2) scale(0.880 1.000)" y="2.61">72h</text>
<text font-size="7.3" text-anchor="middle" fill="#222" transform="translate(288.5 389.2) scale(0.880 1.000)" y="2.61">96h</text>
<text font-size="7.3" text-anchor="middle" fill="#222" transform="translate(311.5 389.2) scale(0.880 1.000)" y="2.61">120h</text>
<text font-size="7.6" text-anchor="middle" fill="#222" transform="translate(277 311.4) scale(0.900 1.000)" y="2.72">H226</text>
<polyline points="242,383.6 265,376.99 288,338.03 311,310.1" fill="none" stroke="#1a1a1a" stroke-width="1.0" stroke-linejoin="round"/>
<polyline points="242,383.6 265,379.19 288,349.06 311,328.48" fill="none" stroke="#2a2a2a" stroke-width="1.1" stroke-linejoin="round" stroke-dasharray="3 2.2"/>
<rect x="241.2" y="382.8" width="1.6" height="1.6" fill="#000"/>
<line x1="265" y1="374.78" x2="265" y2="379.19" stroke="#2e2e2e" stroke-width="1.15" stroke-dasharray="2.0 1.0"/>
<rect x="264.2" y="376.19" width="1.6" height="1.6" fill="#000"/>
<line x1="288" y1="335.09" x2="288" y2="341.93" stroke="#2e2e2e" stroke-width="1.15" stroke-dasharray="2.0 1.0"/>
<rect x="287.2" y="337.23" width="1.6" height="1.6" fill="#000"/>
<line x1="311" y1="300.55" x2="311" y2="317.45" stroke="#2e2e2e" stroke-width="1.15" stroke-dasharray="2.0 1.0"/>
<rect x="310.2" y="309.3" width="1.6" height="1.6" fill="#000"/>
<rect x="241.2" y="382.8" width="1.6" height="1.6" fill="#000"/>
<line x1="265" y1="376.99" x2="265" y2="381.4" stroke="#2e2e2e" stroke-width="1.15" stroke-dasharray="2.0 1.0"/>
<rect x="264.2" y="378.39" width="1.6" height="1.6" fill="#000"/>
<line x1="288" y1="345.01" x2="288" y2="352.51" stroke="#2e2e2e" stroke-width="1.15" stroke-dasharray="2.0 1.0"/>
<rect x="287.2" y="348.25" width="1.6" height="1.6" fill="#000"/>
<line x1="311" y1="321.86" x2="311" y2="332.52" stroke="#2e2e2e" stroke-width="1.15" stroke-dasharray="2.0 1.0"/>
<rect x="310.2" y="327.68" width="1.6" height="1.6" fill="#000"/>
<text font-size="7" text-anchor="middle" font-weight="bold" style="stroke-width:0px" transform="translate(288 332.8)" y="2.51">*</text>
<text font-size="7" text-anchor="middle" font-weight="bold" style="stroke-width:0px" transform="translate(311 299.6)" y="2.51">**</text>
<line x1="332" y1="309.7" x2="332" y2="384" stroke="#777" stroke-width="1.0"/>
<line x1="332" y1="383.6" x2="404.3" y2="383.6" stroke="#858585" stroke-width="1.1"/>
<line x1="330.8" y1="383.6" x2="332" y2="383.6" stroke="#777" stroke-width="1.0"/>
<text font-size="7.9" text-anchor="end" transform="translate(329.5 383.3) scale(0.840 1.000)" y="2.83">0</text>
<line x1="330.8" y1="368.9" x2="332" y2="368.9" stroke="#777" stroke-width="1.0"/>
<text font-size="7.9" text-anchor="end" transform="translate(329.5 368.6) scale(0.840 1.000)" y="2.83">20</text>
<line x1="330.8" y1="354.2" x2="332" y2="354.2" stroke="#777" stroke-width="1.0"/>
<text font-size="7.9" text-anchor="end" transform="translate(329.5 353.9) scale(0.840 1.000)" y="2.83">40</text>
<line x1="330.8" y1="339.5" x2="332" y2="339.5" stroke="#777" stroke-width="1.0"/>
<text font-size="7.9" text-anchor="end" transform="translate(329.5 339.2) scale(0.840 1.000)" y="2.83">60</text>
<line x1="330.8" y1="324.8" x2="332" y2="324.8" stroke="#777" stroke-width="1.0"/>
<text font-size="7.9" text-anchor="end" transform="translate(329.5 324.5) scale(0.840 1.000)" y="2.83">80</text>
<line x1="330.8" y1="310.1" x2="332" y2="310.1" stroke="#777" stroke-width="1.0"/>
<text font-size="7.9" text-anchor="end" transform="translate(329.5 309.8) scale(0.840 1.000)" y="2.83">100</text>
<text font-size="7.3" text-anchor="middle" fill="#222" transform="translate(338.1 389.2) scale(0.880 1.000)" y="2.61">48h</text>
<text font-size="7.3" text-anchor="middle" fill="#222" transform="translate(360.5 389.2) scale(0.880 1.000)" y="2.61">72h</text>
<text font-size="7.3" text-anchor="middle" fill="#222" transform="translate(383 389.2) scale(0.880 1.000)" y="2.61">96h</text>
<text font-size="7.3" text-anchor="middle" fill="#222" transform="translate(406 389.2) scale(0.880 1.000)" y="2.61">120h</text>
<text font-size="7.6" text-anchor="middle" fill="#222" transform="translate(370.75 311.4) scale(0.900 1.000)" y="2.72">H441</text>
<polyline points="337.5,383.6 360,373.31 382.5,349.06 405.5,311.57" fill="none" stroke="#1a1a1a" stroke-width="1.0" stroke-linejoin="round"/>
<polyline points="337.5,383.6 360,374.78 382.5,362.29 405.5,327" fill="none" stroke="#2a2a2a" stroke-width="1.1" stroke-linejoin="round" stroke-dasharray="3 2.2"/>
<rect x="336.7" y="382.8" width="1.6" height="1.6" fill="#000"/>
<line x1="360" y1="371.11" x2="360" y2="375.52" stroke="#2e2e2e" stroke-width="1.15" stroke-dasharray="2.0 1.0"/>
<rect x="359.2" y="372.51" width="1.6" height="1.6" fill="#000"/>
<line x1="382.5" y1="343.18" x2="382.5" y2="354.2" stroke="#2e2e2e" stroke-width="1.15" stroke-dasharray="2.0 1.0"/>
<rect x="381.7" y="348.25" width="1.6" height="1.6" fill="#000"/>
<line x1="405.5" y1="308.63" x2="405.5" y2="314.51" stroke="#2e2e2e" stroke-width="1.15" stroke-dasharray="2.0 1.0"/>
<rect x="404.7" y="310.77" width="1.6" height="1.6" fill="#000"/>
<rect x="336.7" y="382.8" width="1.6" height="1.6" fill="#000"/>
<line x1="360" y1="371.84" x2="360" y2="377.72" stroke="#2e2e2e" stroke-width="1.15" stroke-dasharray="2.0 1.0"/>
<rect x="359.2" y="373.98" width="1.6" height="1.6" fill="#000"/>
<line x1="382.5" y1="357.88" x2="382.5" y2="366.7" stroke="#2e2e2e" stroke-width="1.15" stroke-dasharray="2.0 1.0"/>
<rect x="381.7" y="361.49" width="1.6" height="1.6" fill="#000"/>
<line x1="405.5" y1="324.07" x2="405.5" y2="329.21" stroke="#2e2e2e" stroke-width="1.15" stroke-dasharray="2.0 1.0"/>
<rect x="404.7" y="326.2" width="1.6" height="1.6" fill="#000"/>
<text font-size="7" text-anchor="middle" font-weight="bold" style="stroke-width:0px" transform="translate(382.5 342.4)" y="2.51">*</text>
<text font-size="7" text-anchor="middle" font-weight="bold" style="stroke-width:0px" transform="translate(405.5 305.6)" y="2.51">**</text>
<line x1="428" y1="310.4" x2="428" y2="384.7" stroke="#777" stroke-width="1.0"/>
<line x1="428" y1="384.3" x2="499.4" y2="384.3" stroke="#4a4a4a" stroke-width="0.9"/>
<line x1="426.8" y1="384.3" x2="428" y2="384.3" stroke="#777" stroke-width="1.0"/>
<text font-size="7.9" text-anchor="end" transform="translate(425.5 384) scale(0.840 1.000)" y="2.83">0</text>
<line x1="426.8" y1="369.6" x2="428" y2="369.6" stroke="#777" stroke-width="1.0"/>
<text font-size="7.9" text-anchor="end" transform="translate(425.5 369.3) scale(0.840 1.000)" y="2.83">20</text>
<line x1="426.8" y1="354.9" x2="428" y2="354.9" stroke="#777" stroke-width="1.0"/>
<text font-size="7.9" text-anchor="end" transform="translate(425.5 354.6) scale(0.840 1.000)" y="2.83">40</text>
<line x1="426.8" y1="340.2" x2="428" y2="340.2" stroke="#777" stroke-width="1.0"/>
<text font-size="7.9" text-anchor="end" transform="translate(425.5 339.9) scale(0.840 1.000)" y="2.83">60</text>
<line x1="426.8" y1="325.5" x2="428" y2="325.5" stroke="#777" stroke-width="1.0"/>
<text font-size="7.9" text-anchor="end" transform="translate(425.5 325.2) scale(0.840 1.000)" y="2.83">80</text>
<line x1="426.8" y1="310.8" x2="428" y2="310.8" stroke="#777" stroke-width="1.0"/>
<text font-size="7.9" text-anchor="end" transform="translate(425.5 310.5) scale(0.840 1.000)" y="2.83">100</text>
<text font-size="7.3" text-anchor="middle" fill="#222" transform="translate(432.5 389.2) scale(0.880 1.000)" y="2.61">48h</text>
<text font-size="7.3" text-anchor="middle" fill="#222" transform="translate(456.2 389.2) scale(0.880 1.000)" y="2.61">72h</text>
<text font-size="7.3" text-anchor="middle" fill="#222" transform="translate(478.9 389.2) scale(0.880 1.000)" y="2.61">96h</text>
<text font-size="7.3" text-anchor="middle" fill="#222" transform="translate(501.7 389.2) scale(0.880 1.000)" y="2.61">120h</text>
<text font-size="7.6" text-anchor="middle" fill="#222" transform="translate(462.5 312.1) scale(0.900 1.000)" y="2.72">A549</text>
<polyline points="433,383.2 456,373.28 479.5,340.2 503,311.54" fill="none" stroke="#1a1a1a" stroke-width="1.0" stroke-linejoin="round"/>
<polyline points="433,382.46 456,370.34 479.5,340.94 503,315.21" fill="none" stroke="#2a2a2a" stroke-width="1.1" stroke-linejoin="round" stroke-dasharray="3 2.2"/>
<rect x="432.2" y="382.4" width="1.6" height="1.6" fill="#000"/>
<rect x="455.2" y="372.48" width="1.6" height="1.6" fill="#000"/>
<line x1="479.5" y1="338" x2="479.5" y2="342.41" stroke="#2e2e2e" stroke-width="1.15" stroke-dasharray="2.0 1.0"/>
<rect x="478.7" y="339.4" width="1.6" height="1.6" fill="#000"/>
<line x1="503" y1="308.6" x2="503" y2="313.74" stroke="#2e2e2e" stroke-width="1.15" stroke-dasharray="2.0 1.0"/>
<rect x="502.2" y="310.74" width="1.6" height="1.6" fill="#000"/>
<rect x="432.2" y="381.66" width="1.6" height="1.6" fill="#000"/>
<rect x="455.2" y="369.54" width="1.6" height="1.6" fill="#000"/>
<line x1="479.5" y1="338.73" x2="479.5" y2="343.88" stroke="#2e2e2e" stroke-width="1.15" stroke-dasharray="2.0 1.0"/>
<rect x="478.7" y="340.13" width="1.6" height="1.6" fill="#000"/>
<line x1="503" y1="312.27" x2="503" y2="318.15" stroke="#2e2e2e" stroke-width="1.15" stroke-dasharray="2.0 1.0"/>
<rect x="502.2" y="314.41" width="1.6" height="1.6" fill="#000"/>
<!-- Panel F -->
<rect x="26.2" y="418.9" width="6.4" height="6.4" fill="#fff" stroke="#3a3a3a" stroke-width="0.9"/>
<text font-size="7.5" text-anchor="start" transform="translate(35 421.6) scale(0.964 1.000)" y="2.69">Control siRNA</text>
<rect x="92" y="417.6" width="6.8" height="7.4" fill="#000"/>
<text font-size="7.5" text-anchor="start" transform="translate(100.7 421.6) scale(0.972 1.000)" y="2.69">TET1 siRNA</text>
<text font-size="7.8" text-anchor="middle" transform="translate(12 466.1) rotate(-90) scale(0.998 0.950)" y="0">Relative number</text>
<text font-size="7.7" text-anchor="middle" transform="translate(19.1 466) rotate(-90) scale(1.041 0.950)" y="0">of colonies (%)</text>
<line x1="39.9" y1="431.57" x2="39.9" y2="502.15" stroke="#333" stroke-width="0.9"/>
<line x1="39.9" y1="501.75" x2="62.4" y2="501.75" stroke="#333" stroke-width="0.9"/>
<line x1="38.7" y1="501.75" x2="39.9" y2="501.75" stroke="#333" stroke-width="0.9"/>
<text font-size="8.1" text-anchor="end" transform="translate(37.7 501.45) scale(0.900 1.000)" y="2.9">0</text>
<line x1="38.7" y1="490.12" x2="39.9" y2="490.12" stroke="#333" stroke-width="0.9"/>
<text font-size="8.1" text-anchor="end" transform="translate(37.7 489.82) scale(0.900 1.000)" y="2.9">20</text>
<line x1="38.7" y1="478.49" x2="39.9" y2="478.49" stroke="#333" stroke-width="0.9"/>
<text font-size="8.1" text-anchor="end" transform="translate(37.7 478.19) scale(0.900 1.000)" y="2.9">40</text>
<line x1="38.7" y1="466.86" x2="39.9" y2="466.86" stroke="#333" stroke-width="0.9"/>
<text font-size="8.1" text-anchor="end" transform="translate(37.7 466.56) scale(0.900 1.000)" y="2.9">60</text>
<line x1="38.7" y1="455.23" x2="39.9" y2="455.23" stroke="#333" stroke-width="0.9"/>
<text font-size="8.1" text-anchor="end" transform="translate(37.7 454.93) scale(0.900 1.000)" y="2.9">80</text>
<line x1="38.7" y1="443.6" x2="39.9" y2="443.6" stroke="#333" stroke-width="0.9"/>
<text font-size="8.1" text-anchor="end" transform="translate(37.7 443.3) scale(0.900 1.000)" y="2.9">100</text>
<line x1="38.7" y1="431.97" x2="39.9" y2="431.97" stroke="#333" stroke-width="0.9"/>
<text font-size="8.1" text-anchor="end" transform="translate(37.7 431.67) scale(0.900 1.000)" y="2.9">120</text>
<line x1="47.8" y1="431.97" x2="47.8" y2="443.6" stroke="#222" stroke-width="0.9"/>
<line x1="45.6" y1="431.97" x2="50" y2="431.97" stroke="#222" stroke-width="0.9"/>
<rect x="45.65" y="443.6" width="5.6" height="58.15" fill="#fff" stroke="#2a2a2a" stroke-width="0.9"/>
<line x1="57.3" y1="473.26" x2="57.3" y2="483.14" stroke="#222" stroke-width="0.9"/>
<line x1="55.1" y1="473.26" x2="59.5" y2="473.26" stroke="#222" stroke-width="0.9"/>
<rect x="54.3" y="483.14" width="5.9" height="18.61" fill="#000"/>
<text font-size="7.6" text-anchor="middle" transform="translate(52 506.75) scale(0.950 1.000)" y="2.72">H1299</text>
<text font-size="7" text-anchor="middle" font-weight="bold" style="stroke-width:0px" transform="translate(57.1 468)" y="2.51">***</text>
<line x1="75.7" y1="431.57" x2="75.7" y2="502.15" stroke="#333" stroke-width="0.9"/>
<line x1="75.7" y1="501.75" x2="98.2" y2="501.75" stroke="#333" stroke-width="0.9"/>
<line x1="74.5" y1="501.75" x2="75.7" y2="501.75" stroke="#333" stroke-width="0.9"/>
<text font-size="8.1" text-anchor="end" transform="translate(73.5 501.45) scale(0.900 1.000)" y="2.9">0</text>
<line x1="74.5" y1="490.12" x2="75.7" y2="490.12" stroke="#333" stroke-width="0.9"/>
<text font-size="8.1" text-anchor="end" transform="translate(73.5 489.82) scale(0.900 1.000)" y="2.9">20</text>
<line x1="74.5" y1="478.49" x2="75.7" y2="478.49" stroke="#333" stroke-width="0.9"/>
<text font-size="8.1" text-anchor="end" transform="translate(73.5 478.19) scale(0.900 1.000)" y="2.9">40</text>
<line x1="74.5" y1="466.86" x2="75.7" y2="466.86" stroke="#333" stroke-width="0.9"/>
<text font-size="8.1" text-anchor="end" transform="translate(73.5 466.56) scale(0.900 1.000)" y="2.9">60</text>
<line x1="74.5" y1="455.23" x2="75.7" y2="455.23" stroke="#333" stroke-width="0.9"/>
<text font-size="8.1" text-anchor="end" transform="translate(73.5 454.93) scale(0.900 1.000)" y="2.9">80</text>
<line x1="74.5" y1="443.6" x2="75.7" y2="443.6" stroke="#333" stroke-width="0.9"/>
<text font-size="8.1" text-anchor="end" transform="translate(73.5 443.3) scale(0.900 1.000)" y="2.9">100</text>
<line x1="74.5" y1="431.97" x2="75.7" y2="431.97" stroke="#333" stroke-width="0.9"/>
<text font-size="8.1" text-anchor="end" transform="translate(73.5 431.67) scale(0.900 1.000)" y="2.9">120</text>
<line x1="83.6" y1="433.71" x2="83.6" y2="443.6" stroke="#222" stroke-width="0.9"/>
<line x1="81.4" y1="433.71" x2="85.8" y2="433.71" stroke="#222" stroke-width="0.9"/>
<rect x="81.45" y="443.6" width="5.6" height="58.15" fill="#fff" stroke="#2a2a2a" stroke-width="0.9"/>
<line x1="93.1" y1="472.68" x2="93.1" y2="478.49" stroke="#222" stroke-width="0.9"/>
<line x1="90.9" y1="472.68" x2="95.3" y2="472.68" stroke="#222" stroke-width="0.9"/>
<rect x="90.1" y="478.49" width="5.9" height="23.26" fill="#000"/>
<text font-size="7.6" text-anchor="middle" transform="translate(87.8 506.75) scale(0.950 1.000)" y="2.72">H226</text>
<text font-size="7" text-anchor="middle" font-weight="bold" style="stroke-width:0px" transform="translate(93.3 468)" y="2.51">**</text>
<line x1="112.4" y1="431.57" x2="112.4" y2="502.15" stroke="#333" stroke-width="0.9"/>
<line x1="112.4" y1="501.75" x2="134.9" y2="501.75" stroke="#333" stroke-width="0.9"/>
<line x1="111.2" y1="501.75" x2="112.4" y2="501.75" stroke="#333" stroke-width="0.9"/>
<text font-size="8.1" text-anchor="end" transform="translate(110.2 501.45) scale(0.900 1.000)" y="2.9">0</text>
<line x1="111.2" y1="490.12" x2="112.4" y2="490.12" stroke="#333" stroke-width="0.9"/>
<text font-size="8.1" text-anchor="end" transform="translate(110.2 489.82) scale(0.900 1.000)" y="2.9">20</text>
<line x1="111.2" y1="478.49" x2="112.4" y2="478.49" stroke="#333" stroke-width="0.9"/>
<text font-size="8.1" text-anchor="end" transform="translate(110.2 478.19) scale(0.900 1.000)" y="2.9">40</text>
<line x1="111.2" y1="466.86" x2="112.4" y2="466.86" stroke="#333" stroke-width="0.9"/>
<text font-size="8.1" text-anchor="end" transform="translate(110.2 466.56) scale(0.900 1.000)" y="2.9">60</text>
<line x1="111.2" y1="455.23" x2="112.4" y2="455.23" stroke="#333" stroke-width="0.9"/>
<text font-size="8.1" text-anchor="end" transform="translate(110.2 454.93) scale(0.900 1.000)" y="2.9">80</text>
<line x1="111.2" y1="443.6" x2="112.4" y2="443.6" stroke="#333" stroke-width="0.9"/>
<text font-size="8.1" text-anchor="end" transform="translate(110.2 443.3) scale(0.900 1.000)" y="2.9">100</text>
<line x1="111.2" y1="431.97" x2="112.4" y2="431.97" stroke="#333" stroke-width="0.9"/>
<text font-size="8.1" text-anchor="end" transform="translate(110.2 431.67) scale(0.900 1.000)" y="2.9">120</text>
<line x1="120.3" y1="434.88" x2="120.3" y2="443.02" stroke="#222" stroke-width="0.9"/>
<line x1="118.1" y1="434.88" x2="122.5" y2="434.88" stroke="#222" stroke-width="0.9"/>
<rect x="118.15" y="443.02" width="5.6" height="58.73" fill="#fff" stroke="#2a2a2a" stroke-width="0.9"/>
<line x1="129.8" y1="463.95" x2="129.8" y2="472.68" stroke="#222" stroke-width="0.9"/>
<line x1="127.6" y1="463.95" x2="132" y2="463.95" stroke="#222" stroke-width="0.9"/>
<rect x="126.8" y="472.68" width="5.9" height="29.07" fill="#000"/>
<text font-size="7.6" text-anchor="middle" transform="translate(123.3 506.75) scale(0.950 1.000)" y="2.72">Calu6</text>
<text font-size="7" text-anchor="middle" font-weight="bold" style="stroke-width:0px" transform="translate(129.8 457.6)" y="2.51">**</text>
<line x1="150.6" y1="431.57" x2="150.6" y2="502.15" stroke="#333" stroke-width="0.9"/>
<line x1="150.6" y1="501.75" x2="173.1" y2="501.75" stroke="#333" stroke-width="0.9"/>
<line x1="149.4" y1="501.75" x2="150.6" y2="501.75" stroke="#333" stroke-width="0.9"/>
<text font-size="8.1" text-anchor="end" transform="translate(148.4 501.45) scale(0.900 1.000)" y="2.9">0</text>
<line x1="149.4" y1="490.12" x2="150.6" y2="490.12" stroke="#333" stroke-width="0.9"/>
<text font-size="8.1" text-anchor="end" transform="translate(148.4 489.82) scale(0.900 1.000)" y="2.9">20</text>
<line x1="149.4" y1="478.49" x2="150.6" y2="478.49" stroke="#333" stroke-width="0.9"/>
<text font-size="8.1" text-anchor="end" transform="translate(148.4 478.19) scale(0.900 1.000)" y="2.9">40</text>
<line x1="149.4" y1="466.86" x2="150.6" y2="466.86" stroke="#333" stroke-width="0.9"/>
<text font-size="8.1" text-anchor="end" transform="translate(148.4 466.56) scale(0.900 1.000)" y="2.9">60</text>
<line x1="149.4" y1="455.23" x2="150.6" y2="455.23" stroke="#333" stroke-width="0.9"/>
<text font-size="8.1" text-anchor="end" transform="translate(148.4 454.93) scale(0.900 1.000)" y="2.9">80</text>
<line x1="149.4" y1="443.6" x2="150.6" y2="443.6" stroke="#333" stroke-width="0.9"/>
<text font-size="8.1" text-anchor="end" transform="translate(148.4 443.3) scale(0.900 1.000)" y="2.9">100</text>
<line x1="149.4" y1="431.97" x2="150.6" y2="431.97" stroke="#333" stroke-width="0.9"/>
<text font-size="8.1" text-anchor="end" transform="translate(148.4 431.67) scale(0.900 1.000)" y="2.9">120</text>
<line x1="158.5" y1="437.2" x2="158.5" y2="443.02" stroke="#222" stroke-width="0.9"/>
<line x1="156.3" y1="437.2" x2="160.7" y2="437.2" stroke="#222" stroke-width="0.9"/>
<rect x="156.35" y="443.02" width="5.6" height="58.73" fill="#fff" stroke="#2a2a2a" stroke-width="0.9"/>
<line x1="168" y1="437.78" x2="168" y2="446.51" stroke="#222" stroke-width="0.9"/>
<line x1="165.8" y1="437.78" x2="170.2" y2="437.78" stroke="#222" stroke-width="0.9"/>
<rect x="165" y="446.51" width="5.9" height="55.24" fill="#000"/>
<text font-size="7.6" text-anchor="middle" transform="translate(162.7 506.75) scale(0.950 1.000)" y="2.72">A549</text>
<!-- Panel G -->
<line x1="212.7" y1="415.8" x2="219.6" y2="415.8" stroke="#000" stroke-width="0.9"/>
<rect x="214.8" y="414.8" width="2" height="2" fill="#000"/>
<text font-size="10.1" text-anchor="start" style="stroke-width:0.3px" transform="translate(220.6 416.1) scale(0.906 1.000)" y="3.62">Control siRNA</text>
<line x1="213" y1="425" x2="219.8" y2="425" stroke="#000" stroke-width="0.9" stroke-dasharray="1.6 1.4"/>
<rect x="215.2" y="424" width="2" height="2" fill="#000"/>
<text font-size="10.1" text-anchor="start" style="stroke-width:0.3px" transform="translate(222.8 426.5) scale(0.902 1.000)" y="3.62">TET1 siRNA</text>
<text font-size="6.9" text-anchor="middle" fill="#4a4a4a" style="stroke-width:0.12px" transform="translate(194.2 468) rotate(-90) scale(0.957 1.000)" y="0">Tumor volume (mm³)</text>
<line x1="211.4" y1="431.16" x2="211.4" y2="506" stroke="#555" stroke-width="0.9"/>
<line x1="211.4" y1="505.6" x2="282.6" y2="505.6" stroke="#555" stroke-width="0.9"/>
<line x1="210.2" y1="505.6" x2="211.4" y2="505.6" stroke="#555" stroke-width="0.9"/>
<text font-size="8.2" text-anchor="end" transform="translate(209.2 505.4) scale(0.930 1.000)" y="2.94">0</text>
<line x1="210.2" y1="493.26" x2="211.4" y2="493.26" stroke="#555" stroke-width="0.9"/>
<text font-size="8.2" text-anchor="end" transform="translate(209.2 493.06) scale(0.930 1.000)" y="2.94">10</text>
<line x1="210.2" y1="480.92" x2="211.4" y2="480.92" stroke="#555" stroke-width="0.9"/>
<text font-size="8.2" text-anchor="end" transform="translate(209.2 480.72) scale(0.930 1.000)" y="2.94">20</text>
<line x1="210.2" y1="468.58" x2="211.4" y2="468.58" stroke="#555" stroke-width="0.9"/>
<text font-size="8.2" text-anchor="end" transform="translate(209.2 468.38) scale(0.930 1.000)" y="2.94">30</text>
<line x1="210.2" y1="456.24" x2="211.4" y2="456.24" stroke="#555" stroke-width="0.9"/>
<text font-size="8.2" text-anchor="end" transform="translate(209.2 456.04) scale(0.930 1.000)" y="2.94">40</text>
<line x1="210.2" y1="443.9" x2="211.4" y2="443.9" stroke="#555" stroke-width="0.9"/>
<text font-size="8.2" text-anchor="end" transform="translate(209.2 443.7) scale(0.930 1.000)" y="2.94">50</text>
<line x1="210.2" y1="431.56" x2="211.4" y2="431.56" stroke="#555" stroke-width="0.9"/>
<text font-size="8.2" text-anchor="end" transform="translate(209.2 431.36) scale(0.930 1.000)" y="2.94">60</text>
<text font-size="8.2" text-anchor="middle" transform="translate(216.8 510.3) scale(0.930 1.000)" y="2.94">7</text>
<text font-size="8.2" text-anchor="middle" transform="translate(233 510.3) scale(0.930 1.000)" y="2.94">10</text>
<text font-size="8.2" text-anchor="middle" transform="translate(249 510.3) scale(0.930 1.000)" y="2.94">14</text>
<text font-size="8.2" text-anchor="middle" transform="translate(264.4 510.3) scale(0.930 1.000)" y="2.94">18</text>
<text font-size="8.2" text-anchor="middle" transform="translate(279.8 510.3) scale(0.930 1.000)" y="2.94">21</text>
<text font-size="8.1" text-anchor="start" transform="translate(214.9 435.4) scale(0.940 1.000)" y="2.9">H1299</text>
<text font-size="7.6" text-anchor="middle" transform="translate(248 519.1)" y="2.72">Days</text>
<polyline points="216.6,478.33 232.8,468.95 248.8,464.01 264.2,451.8 279.6,444.76" fill="none" stroke="#1c1c1c" stroke-width="1.0" stroke-linejoin="round"/>
<polyline points="216.6,490.42 232.8,487.83 248.8,484 264.2,483.14 279.6,480.43" fill="none" stroke="#2a2a2a" stroke-width="1.1" stroke-linejoin="round" stroke-dasharray="3 2.2"/>
<line x1="216.6" y1="473.39" x2="216.6" y2="483.26" stroke="#222" stroke-width="1.0"/>
<line x1="215.3" y1="473.39" x2="217.9" y2="473.39" stroke="#222" stroke-width="0.7"/>
<line x1="215.3" y1="483.26" x2="217.9" y2="483.26" stroke="#222" stroke-width="0.7"/>
<rect x="215.8" y="477.53" width="1.6" height="1.6" fill="#000"/>
<line x1="232.8" y1="465.5" x2="232.8" y2="472.41" stroke="#222" stroke-width="1.0"/>
<line x1="231.5" y1="465.5" x2="234.1" y2="465.5" stroke="#222" stroke-width="0.7"/>
<line x1="231.5" y1="472.41" x2="234.1" y2="472.41" stroke="#222" stroke-width="0.7"/>
<rect x="232" y="468.15" width="1.6" height="1.6" fill="#000"/>
<line x1="248.8" y1="458.58" x2="248.8" y2="469.44" stroke="#222" stroke-width="1.0"/>
<line x1="247.5" y1="458.58" x2="250.1" y2="458.58" stroke="#222" stroke-width="0.7"/>
<line x1="247.5" y1="469.44" x2="250.1" y2="469.44" stroke="#222" stroke-width="0.7"/>
<rect x="248" y="463.21" width="1.6" height="1.6" fill="#000"/>
<line x1="264.2" y1="445.63" x2="264.2" y2="457.97" stroke="#222" stroke-width="1.0"/>
<line x1="262.9" y1="445.63" x2="265.5" y2="445.63" stroke="#222" stroke-width="0.7"/>
<line x1="262.9" y1="457.97" x2="265.5" y2="457.97" stroke="#222" stroke-width="0.7"/>
<rect x="263.4" y="451" width="1.6" height="1.6" fill="#000"/>
<line x1="279.6" y1="437.98" x2="279.6" y2="451.55" stroke="#222" stroke-width="1.0"/>
<line x1="278.3" y1="437.98" x2="280.9" y2="437.98" stroke="#222" stroke-width="0.7"/>
<line x1="278.3" y1="451.55" x2="280.9" y2="451.55" stroke="#222" stroke-width="0.7"/>
<rect x="278.8" y="443.96" width="1.6" height="1.6" fill="#000"/>
<line x1="216.6" y1="489.68" x2="216.6" y2="491.16" stroke="#222" stroke-width="1.0"/>
<line x1="215.3" y1="489.68" x2="217.9" y2="489.68" stroke="#222" stroke-width="0.7"/>
<line x1="215.3" y1="491.16" x2="217.9" y2="491.16" stroke="#222" stroke-width="0.7"/>
<rect x="215.8" y="489.62" width="1.6" height="1.6" fill="#000"/>
<line x1="232.8" y1="482.89" x2="232.8" y2="492.77" stroke="#222" stroke-width="1.0"/>
<line x1="231.5" y1="482.89" x2="234.1" y2="482.89" stroke="#222" stroke-width="0.7"/>
<line x1="231.5" y1="492.77" x2="234.1" y2="492.77" stroke="#222" stroke-width="0.7"/>
<rect x="232" y="487.03" width="1.6" height="1.6" fill="#000"/>
<line x1="248.8" y1="475.98" x2="248.8" y2="492.03" stroke="#222" stroke-width="1.0"/>
<line x1="247.5" y1="475.98" x2="250.1" y2="475.98" stroke="#222" stroke-width="0.7"/>
<line x1="247.5" y1="492.03" x2="250.1" y2="492.03" stroke="#222" stroke-width="0.7"/>
<rect x="248" y="483.2" width="1.6" height="1.6" fill="#000"/>
<line x1="264.2" y1="478.82" x2="264.2" y2="487.46" stroke="#222" stroke-width="1.0"/>
<line x1="262.9" y1="478.82" x2="265.5" y2="478.82" stroke="#222" stroke-width="0.7"/>
<line x1="262.9" y1="487.46" x2="265.5" y2="487.46" stroke="#222" stroke-width="0.7"/>
<rect x="263.4" y="482.34" width="1.6" height="1.6" fill="#000"/>
<line x1="279.6" y1="477.96" x2="279.6" y2="482.89" stroke="#222" stroke-width="1.0"/>
<line x1="278.3" y1="477.96" x2="280.9" y2="477.96" stroke="#222" stroke-width="0.7"/>
<line x1="278.3" y1="482.89" x2="280.9" y2="482.89" stroke="#222" stroke-width="0.7"/>
<rect x="278.8" y="479.63" width="1.6" height="1.6" fill="#000"/>
<text font-size="7" text-anchor="middle" font-weight="bold" style="stroke-width:0px" transform="translate(233 460.9)" y="2.51">*</text>
<text font-size="7" text-anchor="middle" font-weight="bold" style="stroke-width:0px" transform="translate(249 456.9)" y="2.51">*</text>
<text font-size="7" text-anchor="middle" font-weight="bold" style="stroke-width:0px" transform="translate(264 443.2)" y="2.51">**</text>
<text font-size="7" text-anchor="middle" font-weight="bold" style="stroke-width:0px" transform="translate(279.6 437.1)" y="2.51">***</text>
<line x1="300.9" y1="431.1" x2="300.9" y2="505.9" stroke="#555" stroke-width="0.9"/>
<line x1="300.9" y1="505.5" x2="372.25" y2="505.5" stroke="#555" stroke-width="0.9"/>
<line x1="299.7" y1="505.5" x2="300.9" y2="505.5" stroke="#555" stroke-width="0.9"/>
<text font-size="8.2" text-anchor="end" transform="translate(298.7 505.3) scale(0.930 1.000)" y="2.94">0</text>
<line x1="299.7" y1="497.28" x2="300.9" y2="497.28" stroke="#555" stroke-width="0.9"/>
<text font-size="8.2" text-anchor="end" transform="translate(298.7 497.08) scale(0.930 1.000)" y="2.94">5</text>
<line x1="299.7" y1="489.06" x2="300.9" y2="489.06" stroke="#555" stroke-width="0.9"/>
<text font-size="8.2" text-anchor="end" transform="translate(298.7 488.86) scale(0.930 1.000)" y="2.94">10</text>
<line x1="299.7" y1="480.83" x2="300.9" y2="480.83" stroke="#555" stroke-width="0.9"/>
<text font-size="8.2" text-anchor="end" transform="translate(298.7 480.63) scale(0.930 1.000)" y="2.94">15</text>
<line x1="299.7" y1="472.61" x2="300.9" y2="472.61" stroke="#555" stroke-width="0.9"/>
<text font-size="8.2" text-anchor="end" transform="translate(298.7 472.41) scale(0.930 1.000)" y="2.94">20</text>
<line x1="299.7" y1="464.39" x2="300.9" y2="464.39" stroke="#555" stroke-width="0.9"/>
<text font-size="8.2" text-anchor="end" transform="translate(298.7 464.19) scale(0.930 1.000)" y="2.94">25</text>
<line x1="299.7" y1="456.17" x2="300.9" y2="456.17" stroke="#555" stroke-width="0.9"/>
<text font-size="8.2" text-anchor="end" transform="translate(298.7 455.97) scale(0.930 1.000)" y="2.94">30</text>
<line x1="299.7" y1="447.94" x2="300.9" y2="447.94" stroke="#555" stroke-width="0.9"/>
<text font-size="8.2" text-anchor="end" transform="translate(298.7 447.74) scale(0.930 1.000)" y="2.94">35</text>
<line x1="299.7" y1="439.72" x2="300.9" y2="439.72" stroke="#555" stroke-width="0.9"/>
<text font-size="8.2" text-anchor="end" transform="translate(298.7 439.52) scale(0.930 1.000)" y="2.94">40</text>
<line x1="299.7" y1="431.5" x2="300.9" y2="431.5" stroke="#555" stroke-width="0.9"/>
<text font-size="8.2" text-anchor="end" transform="translate(298.7 431.3) scale(0.930 1.000)" y="2.94">45</text>
<text font-size="8.2" text-anchor="middle" transform="translate(306.45 510.2) scale(0.930 1.000)" y="2.94">7</text>
<text font-size="8.2" text-anchor="middle" transform="translate(322.7 510.2) scale(0.930 1.000)" y="2.94">10</text>
<text font-size="8.2" text-anchor="middle" transform="translate(338.45 510.2) scale(0.930 1.000)" y="2.94">14</text>
<text font-size="8.2" text-anchor="middle" transform="translate(353.95 510.2) scale(0.930 1.000)" y="2.94">18</text>
<text font-size="8.2" text-anchor="middle" transform="translate(369.45 510.2) scale(0.930 1.000)" y="2.94">21</text>
<text font-size="8.1" text-anchor="start" transform="translate(304.4 435.4) scale(0.940 1.000)" y="2.9">H226</text>
<text font-size="7.6" text-anchor="middle" transform="translate(337.5 519.1)" y="2.72">Days</text>
<polyline points="306.25,464.88 322.5,455.02 338.25,450.08 353.75,450.08 369.25,441.86" fill="none" stroke="#1c1c1c" stroke-width="1.0" stroke-linejoin="round"/>
<polyline points="306.25,477.54 322.5,475.08 338.25,473.43 353.75,471.79 369.25,469.32" fill="none" stroke="#2a2a2a" stroke-width="1.1" stroke-linejoin="round" stroke-dasharray="3 2.2"/>
<line x1="306.25" y1="462.42" x2="306.25" y2="467.35" stroke="#222" stroke-width="1.0"/>
<line x1="304.95" y1="462.42" x2="307.55" y2="462.42" stroke="#222" stroke-width="0.7"/>
<line x1="304.95" y1="467.35" x2="307.55" y2="467.35" stroke="#222" stroke-width="0.7"/>
<rect x="305.45" y="464.08" width="1.6" height="1.6" fill="#000"/>
<line x1="322.5" y1="450.08" x2="322.5" y2="459.95" stroke="#222" stroke-width="1.0"/>
<line x1="321.2" y1="450.08" x2="323.8" y2="450.08" stroke="#222" stroke-width="0.7"/>
<line x1="321.2" y1="459.95" x2="323.8" y2="459.95" stroke="#222" stroke-width="0.7"/>
<rect x="321.7" y="454.22" width="1.6" height="1.6" fill="#000"/>
<line x1="338.25" y1="443.5" x2="338.25" y2="456.66" stroke="#222" stroke-width="1.0"/>
<line x1="336.95" y1="443.5" x2="339.55" y2="443.5" stroke="#222" stroke-width="0.7"/>
<line x1="336.95" y1="456.66" x2="339.55" y2="456.66" stroke="#222" stroke-width="0.7"/>
<rect x="337.45" y="449.28" width="1.6" height="1.6" fill="#000"/>
<line x1="353.75" y1="445.15" x2="353.75" y2="455.02" stroke="#222" stroke-width="1.0"/>
<line x1="352.45" y1="445.15" x2="355.05" y2="445.15" stroke="#222" stroke-width="0.7"/>
<line x1="352.45" y1="455.02" x2="355.05" y2="455.02" stroke="#222" stroke-width="0.7"/>
<rect x="352.95" y="449.28" width="1.6" height="1.6" fill="#000"/>
<line x1="369.25" y1="436.93" x2="369.25" y2="446.79" stroke="#222" stroke-width="1.0"/>
<line x1="367.95" y1="436.93" x2="370.55" y2="436.93" stroke="#222" stroke-width="0.7"/>
<line x1="367.95" y1="446.79" x2="370.55" y2="446.79" stroke="#222" stroke-width="0.7"/>
<rect x="368.45" y="441.06" width="1.6" height="1.6" fill="#000"/>
<line x1="306.25" y1="476.89" x2="306.25" y2="478.2" stroke="#222" stroke-width="1.0"/>
<line x1="304.95" y1="476.89" x2="307.55" y2="476.89" stroke="#222" stroke-width="0.7"/>
<line x1="304.95" y1="478.2" x2="307.55" y2="478.2" stroke="#222" stroke-width="0.7"/>
<rect x="305.45" y="476.74" width="1.6" height="1.6" fill="#000"/>
<line x1="322.5" y1="472.61" x2="322.5" y2="477.54" stroke="#222" stroke-width="1.0"/>
<line x1="321.2" y1="472.61" x2="323.8" y2="472.61" stroke="#222" stroke-width="0.7"/>
<line x1="321.2" y1="477.54" x2="323.8" y2="477.54" stroke="#222" stroke-width="0.7"/>
<rect x="321.7" y="474.28" width="1.6" height="1.6" fill="#000"/>
<line x1="338.25" y1="469.32" x2="338.25" y2="477.54" stroke="#222" stroke-width="1.0"/>
<line x1="336.95" y1="469.32" x2="339.55" y2="469.32" stroke="#222" stroke-width="0.7"/>
<line x1="336.95" y1="477.54" x2="339.55" y2="477.54" stroke="#222" stroke-width="0.7"/>
<rect x="337.45" y="472.63" width="1.6" height="1.6" fill="#000"/>
<line x1="353.75" y1="469.32" x2="353.75" y2="474.26" stroke="#222" stroke-width="1.0"/>
<line x1="352.45" y1="469.32" x2="355.05" y2="469.32" stroke="#222" stroke-width="0.7"/>
<line x1="352.45" y1="474.26" x2="355.05" y2="474.26" stroke="#222" stroke-width="0.7"/>
<rect x="352.95" y="470.99" width="1.6" height="1.6" fill="#000"/>
<line x1="369.25" y1="466.03" x2="369.25" y2="472.61" stroke="#222" stroke-width="1.0"/>
<line x1="367.95" y1="466.03" x2="370.55" y2="466.03" stroke="#222" stroke-width="0.7"/>
<line x1="367.95" y1="472.61" x2="370.55" y2="472.61" stroke="#222" stroke-width="0.7"/>
<rect x="368.45" y="468.52" width="1.6" height="1.6" fill="#000"/>
<text font-size="7" text-anchor="middle" font-weight="bold" style="stroke-width:0px" transform="translate(322.5 447.9)" y="2.51">*</text>
<text font-size="7" text-anchor="middle" font-weight="bold" style="stroke-width:0px" transform="translate(338.3 441.8)" y="2.51">**</text>
<text font-size="7" text-anchor="middle" font-weight="bold" style="stroke-width:0px" transform="translate(353.8 441.8)" y="2.51">**</text>
<text font-size="7" text-anchor="middle" font-weight="bold" style="stroke-width:0px" transform="translate(369.3 434.4)" y="2.51">***</text>
<!-- Panel H -->
<text font-size="7.9" text-anchor="middle" fill="#222" transform="translate(394.8 468.9) rotate(-90) scale(0.988 1.000)" y="0">Tumor weight (mg)</text>
<line x1="415.2" y1="431.2" x2="415.2" y2="506.1" stroke="#444" stroke-width="1.0"/>
<line x1="415.2" y1="505.7" x2="456.5" y2="505.7" stroke="#444" stroke-width="1.0"/>
<line x1="414" y1="505.7" x2="415.2" y2="505.7" stroke="#444" stroke-width="1.0"/>
<text font-size="8.2" text-anchor="end" transform="translate(413 505.4) scale(0.900 1.000)" y="2.94">0</text>
<line x1="414" y1="481" x2="415.2" y2="481" stroke="#444" stroke-width="1.0"/>
<text font-size="8.2" text-anchor="end" transform="translate(413 480.7) scale(0.900 1.000)" y="2.94">50</text>
<line x1="414" y1="456.3" x2="415.2" y2="456.3" stroke="#444" stroke-width="1.0"/>
<text font-size="8.2" text-anchor="end" transform="translate(413 456) scale(0.900 1.000)" y="2.94">100</text>
<line x1="414" y1="431.6" x2="415.2" y2="431.6" stroke="#444" stroke-width="1.0"/>
<text font-size="8.2" text-anchor="end" transform="translate(413 431.3) scale(0.900 1.000)" y="2.94">150</text>
<text font-size="7.9" text-anchor="middle" transform="translate(441.4 423.8) scale(0.960 1.000)" y="2.83">H1299</text>
<line x1="419" y1="463.71" x2="434.4" y2="463.71" stroke="#333" stroke-width="1.0"/>
<line x1="426.5" y1="459.02" x2="426.5" y2="468.4" stroke="#111" stroke-width="0.8"/>
<line x1="422.5" y1="459.02" x2="430.5" y2="459.02" stroke="#111" stroke-width="0.8"/>
<line x1="422.5" y1="468.4" x2="430.5" y2="468.4" stroke="#111" stroke-width="0.8"/>
<circle cx="426.5" cy="446.42" r="1.25" fill="#000"/>
<circle cx="426.5" cy="456.3" r="1.25" fill="#000"/>
<circle cx="426.5" cy="465.19" r="1.25" fill="#000"/>
<circle cx="426.5" cy="467.17" r="1.25" fill="#000"/>
<circle cx="424.8" cy="472.11" r="1.25" fill="#000"/>
<circle cx="428.2" cy="472.11" r="1.25" fill="#000"/>
<circle cx="426.5" cy="476.06" r="1.25" fill="#000"/>
<line x1="440.6" y1="487.42" x2="455.6" y2="487.42" stroke="#333" stroke-width="1.0"/>
<line x1="448.2" y1="480.26" x2="448.2" y2="494.58" stroke="#111" stroke-width="0.8"/>
<line x1="444.2" y1="480.26" x2="452.2" y2="480.26" stroke="#111" stroke-width="0.8"/>
<line x1="444.2" y1="494.58" x2="452.2" y2="494.58" stroke="#111" stroke-width="0.8"/>
<circle cx="448.2" cy="466.18" r="1.25" fill="#000"/>
<circle cx="448.2" cy="491.87" r="1.25" fill="#000"/>
<circle cx="446.5" cy="495.82" r="1.25" fill="#000"/>
<circle cx="449.9" cy="495.82" r="1.25" fill="#000"/>
<text font-size="7.8" text-anchor="middle" transform="translate(422.4 511.8) scale(0.920 1.000)" y="2.79">Control</text>
<text font-size="7.8" text-anchor="middle" transform="translate(422.9 519.7) scale(0.900 1.000)" y="2.79">siRNA</text>
<text font-size="7.8" text-anchor="middle" transform="translate(448.8 511.8) scale(0.920 1.000)" y="2.79">TET1</text>
<text font-size="7.8" text-anchor="middle" transform="translate(449.3 519.7) scale(0.900 1.000)" y="2.79">siRNA</text>
<text font-size="7" text-anchor="middle" font-weight="bold" style="stroke-width:0px" transform="translate(438.1 442.4)" y="2.51">**</text>
<line x1="474.5" y1="431.2" x2="474.5" y2="506.1" stroke="#444" stroke-width="1.0"/>
<line x1="474.5" y1="505.7" x2="516" y2="505.7" stroke="#444" stroke-width="1.0"/>
<line x1="473.3" y1="505.7" x2="474.5" y2="505.7" stroke="#444" stroke-width="1.0"/>
<text font-size="8.2" text-anchor="end" transform="translate(472.3 505.4) scale(0.900 1.000)" y="2.94">0</text>
<line x1="473.3" y1="490.88" x2="474.5" y2="490.88" stroke="#444" stroke-width="1.0"/>
<text font-size="8.2" text-anchor="end" transform="translate(472.3 490.58) scale(0.900 1.000)" y="2.94">20</text>
<line x1="473.3" y1="476.06" x2="474.5" y2="476.06" stroke="#444" stroke-width="1.0"/>
<text font-size="8.2" text-anchor="end" transform="translate(472.3 475.76) scale(0.900 1.000)" y="2.94">40</text>
<line x1="473.3" y1="461.24" x2="474.5" y2="461.24" stroke="#444" stroke-width="1.0"/>
<text font-size="8.2" text-anchor="end" transform="translate(472.3 460.94) scale(0.900 1.000)" y="2.94">60</text>
<line x1="473.3" y1="446.42" x2="474.5" y2="446.42" stroke="#444" stroke-width="1.0"/>
<text font-size="8.2" text-anchor="end" transform="translate(472.3 446.12) scale(0.900 1.000)" y="2.94">80</text>
<line x1="473.3" y1="431.6" x2="474.5" y2="431.6" stroke="#444" stroke-width="1.0"/>
<text font-size="8.2" text-anchor="end" transform="translate(472.3 431.3) scale(0.900 1.000)" y="2.94">100</text>
<text font-size="7.9" text-anchor="middle" transform="translate(496 423.8) scale(0.960 1.000)" y="2.83">H226</text>
<line x1="478" y1="459.02" x2="492" y2="459.02" stroke="#333" stroke-width="1.0"/>
<line x1="485" y1="455.68" x2="485" y2="462.35" stroke="#111" stroke-width="0.8"/>
<line x1="481" y1="455.68" x2="489" y2="455.68" stroke="#111" stroke-width="0.8"/>
<line x1="481" y1="462.35" x2="489" y2="462.35" stroke="#111" stroke-width="0.8"/>
<circle cx="485" cy="446.42" r="1.25" fill="#000"/>
<circle cx="483.3" cy="453.83" r="1.25" fill="#000"/>
<circle cx="486.7" cy="453.83" r="1.25" fill="#000"/>
<circle cx="485" cy="459.76" r="1.25" fill="#000"/>
<circle cx="483.3" cy="468.65" r="1.25" fill="#000"/>
<circle cx="486.7" cy="468.65" r="1.25" fill="#000"/>
<line x1="498.25" y1="485.69" x2="511.75" y2="485.69" stroke="#333" stroke-width="1.0"/>
<line x1="505" y1="483.47" x2="505" y2="487.92" stroke="#111" stroke-width="0.8"/>
<line x1="501" y1="483.47" x2="509" y2="483.47" stroke="#111" stroke-width="0.8"/>
<line x1="501" y1="487.92" x2="509" y2="487.92" stroke="#111" stroke-width="0.8"/>
<circle cx="503.3" cy="483.47" r="1.25" fill="#000"/>
<circle cx="506.7" cy="483.47" r="1.25" fill="#000"/>
<circle cx="505" cy="484.95" r="1.25" fill="#000"/>
<circle cx="505" cy="490.88" r="1.25" fill="#000"/>
<text font-size="7.8" text-anchor="middle" transform="translate(480.5 511.8) scale(0.920 1.000)" y="2.79">Control</text>
<text font-size="7.8" text-anchor="middle" transform="translate(481 519.7) scale(0.900 1.000)" y="2.79">siRNA</text>
<text font-size="7.8" text-anchor="middle" transform="translate(503.8 511.8) scale(0.920 1.000)" y="2.79">TET1</text>
<text font-size="7.8" text-anchor="middle" transform="translate(504.3 519.7) scale(0.900 1.000)" y="2.79">siRNA</text>
<text font-size="7" text-anchor="middle" font-weight="bold" style="stroke-width:0px" transform="translate(499.3 455.4)" y="2.51">*</text>
</svg>
</body>
</html>
